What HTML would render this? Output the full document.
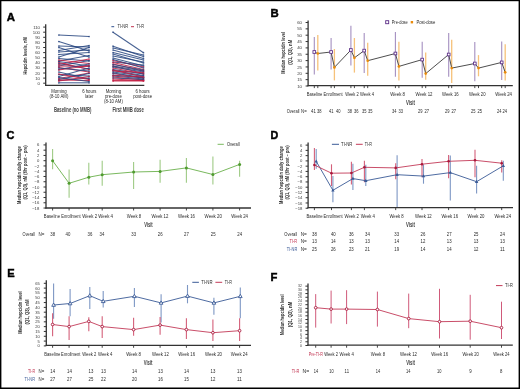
<!DOCTYPE html><html><head><meta charset="utf-8"><style>html,body{margin:0;padding:0;background:#fff;width:520px;height:389px;overflow:hidden}</style></head><body><svg width="520" height="389" viewBox="0 0 520 389" style="display:block;filter:blur(0.3px);font-family:'Liberation Sans',sans-serif">
<rect x="0" y="0" width="520" height="389" fill="#fff"/>
<text x="6.84" y="21.30" font-size="11.39" font-weight="bold" fill="#000" stroke="#000" stroke-width="0.45">A</text>
<line x1="45.70" y1="24.30" x2="45.70" y2="85.90" stroke="#333" stroke-width="1.3" />
<line x1="43.20" y1="83.20" x2="45.70" y2="83.20" stroke="#333" stroke-width="1" />
<text x="37.60" y="84.78" font-size="4.4" font-weight="normal" fill="#3a3a3a" textLength="2.40" lengthAdjust="spacingAndGlyphs">0</text>
<line x1="43.20" y1="78.10" x2="45.70" y2="78.10" stroke="#333" stroke-width="1" />
<text x="35.20" y="79.68" font-size="4.4" font-weight="normal" fill="#3a3a3a" textLength="4.80" lengthAdjust="spacingAndGlyphs">10</text>
<line x1="43.20" y1="73.00" x2="45.70" y2="73.00" stroke="#333" stroke-width="1" />
<text x="35.20" y="74.58" font-size="4.4" font-weight="normal" fill="#3a3a3a" textLength="4.80" lengthAdjust="spacingAndGlyphs">20</text>
<line x1="43.20" y1="67.90" x2="45.70" y2="67.90" stroke="#333" stroke-width="1" />
<text x="35.20" y="69.48" font-size="4.4" font-weight="normal" fill="#3a3a3a" textLength="4.80" lengthAdjust="spacingAndGlyphs">30</text>
<line x1="43.20" y1="62.80" x2="45.70" y2="62.80" stroke="#333" stroke-width="1" />
<text x="35.20" y="64.38" font-size="4.4" font-weight="normal" fill="#3a3a3a" textLength="4.80" lengthAdjust="spacingAndGlyphs">40</text>
<line x1="43.20" y1="57.70" x2="45.70" y2="57.70" stroke="#333" stroke-width="1" />
<text x="35.20" y="59.28" font-size="4.4" font-weight="normal" fill="#3a3a3a" textLength="4.80" lengthAdjust="spacingAndGlyphs">50</text>
<line x1="43.20" y1="52.60" x2="45.70" y2="52.60" stroke="#333" stroke-width="1" />
<text x="35.20" y="54.18" font-size="4.4" font-weight="normal" fill="#3a3a3a" textLength="4.80" lengthAdjust="spacingAndGlyphs">60</text>
<line x1="43.20" y1="47.50" x2="45.70" y2="47.50" stroke="#333" stroke-width="1" />
<text x="35.20" y="49.08" font-size="4.4" font-weight="normal" fill="#3a3a3a" textLength="4.80" lengthAdjust="spacingAndGlyphs">70</text>
<line x1="43.20" y1="42.40" x2="45.70" y2="42.40" stroke="#333" stroke-width="1" />
<text x="35.20" y="43.98" font-size="4.4" font-weight="normal" fill="#3a3a3a" textLength="4.80" lengthAdjust="spacingAndGlyphs">80</text>
<line x1="43.20" y1="37.30" x2="45.70" y2="37.30" stroke="#333" stroke-width="1" />
<text x="35.20" y="38.88" font-size="4.4" font-weight="normal" fill="#3a3a3a" textLength="4.80" lengthAdjust="spacingAndGlyphs">90</text>
<line x1="43.20" y1="32.20" x2="45.70" y2="32.20" stroke="#333" stroke-width="1" />
<text x="32.81" y="33.78" font-size="4.4" font-weight="normal" fill="#3a3a3a" textLength="7.19" lengthAdjust="spacingAndGlyphs">100</text>
<line x1="43.20" y1="27.10" x2="45.70" y2="27.10" stroke="#333" stroke-width="1" />
<text x="33.13" y="28.68" font-size="4.4" font-weight="normal" fill="#3a3a3a" textLength="6.87" lengthAdjust="spacingAndGlyphs">110</text>
<line x1="45.05" y1="85.30" x2="144.30" y2="85.30" stroke="#333" stroke-width="1.3" />
<g transform="translate(25.40,55.80) rotate(-90)"><text x="-18.70" y="1.80" font-size="6.0" font-weight="bold" fill="#2a2a2a" stroke="#2a2a2a" stroke-width="0.0" textLength="37.40" lengthAdjust="spacingAndGlyphs">Hepcidin levels, nM</text></g>
<text x="51.13" y="92.80" font-size="5.0" font-weight="normal" fill="#2a2a2a" textLength="15.53" lengthAdjust="spacingAndGlyphs">Morning</text>
<text x="49.46" y="97.80" font-size="5.0" font-weight="normal" fill="#2a2a2a" textLength="18.88" lengthAdjust="spacingAndGlyphs">(8-10 AM)</text>
<text x="82.13" y="92.80" font-size="5.0" font-weight="normal" fill="#2a2a2a" textLength="14.34" lengthAdjust="spacingAndGlyphs">6 hours</text>
<text x="85.12" y="97.80" font-size="5.0" font-weight="normal" fill="#2a2a2a" textLength="8.36" lengthAdjust="spacingAndGlyphs">later</text>
<text x="105.63" y="92.80" font-size="5.0" font-weight="normal" fill="#2a2a2a" textLength="15.53" lengthAdjust="spacingAndGlyphs">Morning</text>
<text x="104.92" y="97.80" font-size="5.0" font-weight="normal" fill="#2a2a2a" textLength="16.97" lengthAdjust="spacingAndGlyphs">pre-dose</text>
<text x="103.96" y="102.80" font-size="5.0" font-weight="normal" fill="#2a2a2a" textLength="18.88" lengthAdjust="spacingAndGlyphs">(8-10 AM)</text>
<text x="135.43" y="92.80" font-size="5.0" font-weight="normal" fill="#2a2a2a" textLength="14.34" lengthAdjust="spacingAndGlyphs">6 hours</text>
<text x="133.16" y="97.80" font-size="5.0" font-weight="normal" fill="#2a2a2a" textLength="18.88" lengthAdjust="spacingAndGlyphs">post-dose</text>
<text x="54.00" y="112.35" font-size="6.8" font-weight="bold" fill="#444" textLength="37.50" lengthAdjust="spacingAndGlyphs">Baseline (no MMB)</text>
<text x="112.50" y="112.35" font-size="6.8" font-weight="bold" fill="#444" textLength="31.30" lengthAdjust="spacingAndGlyphs">First MMB dose</text>
<line x1="111.40" y1="26.70" x2="114.20" y2="26.70" stroke="#2f4f8f" stroke-width="1" />
<text x="117.50" y="28.36" font-size="4.6" font-weight="normal" fill="#2a2a2a" textLength="10.50" lengthAdjust="spacingAndGlyphs">TI-NR</text>
<line x1="131.00" y1="26.70" x2="134.00" y2="26.70" stroke="#c0304e" stroke-width="1" />
<text x="136.50" y="28.36" font-size="4.6" font-weight="normal" fill="#2a2a2a" textLength="7.50" lengthAdjust="spacingAndGlyphs">TI-R</text>
<line x1="58.80" y1="35.00" x2="89.10" y2="36.50" stroke="#27457f" stroke-width="1.05" stroke-opacity="0.85"/>
<line x1="58.80" y1="41.50" x2="89.10" y2="51.00" stroke="#27457f" stroke-width="1.05" stroke-opacity="0.85"/>
<line x1="58.80" y1="46.00" x2="89.10" y2="47.00" stroke="#27457f" stroke-width="1.05" stroke-opacity="0.85"/>
<line x1="58.80" y1="50.50" x2="89.10" y2="45.50" stroke="#27457f" stroke-width="1.05" stroke-opacity="0.85"/>
<line x1="58.80" y1="47.50" x2="89.10" y2="57.00" stroke="#27457f" stroke-width="1.05" stroke-opacity="0.85"/>
<line x1="58.80" y1="52.00" x2="89.10" y2="50.00" stroke="#27457f" stroke-width="1.05" stroke-opacity="0.85"/>
<line x1="58.80" y1="54.50" x2="89.10" y2="52.50" stroke="#27457f" stroke-width="1.05" stroke-opacity="0.85"/>
<line x1="58.80" y1="57.00" x2="89.10" y2="47.50" stroke="#27457f" stroke-width="1.05" stroke-opacity="0.85"/>
<line x1="58.80" y1="58.50" x2="89.10" y2="61.00" stroke="#27457f" stroke-width="1.05" stroke-opacity="0.85"/>
<line x1="58.80" y1="61.00" x2="89.10" y2="55.50" stroke="#27457f" stroke-width="1.05" stroke-opacity="0.85"/>
<line x1="58.80" y1="64.50" x2="89.10" y2="59.00" stroke="#c21d43" stroke-width="1.05" stroke-opacity="0.85"/>
<line x1="58.80" y1="66.00" x2="89.10" y2="60.50" stroke="#27457f" stroke-width="1.05" stroke-opacity="0.85"/>
<line x1="58.80" y1="63.50" x2="89.10" y2="69.00" stroke="#27457f" stroke-width="1.05" stroke-opacity="0.85"/>
<line x1="58.80" y1="60.00" x2="89.10" y2="63.50" stroke="#c21d43" stroke-width="1.05" stroke-opacity="0.85"/>
<line x1="58.80" y1="62.50" x2="89.10" y2="69.50" stroke="#c21d43" stroke-width="1.05" stroke-opacity="0.85"/>
<line x1="58.80" y1="66.00" x2="89.10" y2="66.50" stroke="#c21d43" stroke-width="1.05" stroke-opacity="0.85"/>
<line x1="58.80" y1="69.50" x2="89.10" y2="64.00" stroke="#27457f" stroke-width="1.05" stroke-opacity="0.85"/>
<line x1="58.80" y1="61.50" x2="89.10" y2="66.00" stroke="#27457f" stroke-width="1.05" stroke-opacity="0.85"/>
<line x1="58.80" y1="70.00" x2="89.10" y2="65.50" stroke="#c21d43" stroke-width="1.05" stroke-opacity="0.85"/>
<line x1="58.80" y1="67.50" x2="89.10" y2="72.00" stroke="#c21d43" stroke-width="1.05" stroke-opacity="0.85"/>
<line x1="58.80" y1="68.00" x2="89.10" y2="71.00" stroke="#27457f" stroke-width="1.05" stroke-opacity="0.85"/>
<line x1="58.80" y1="76.50" x2="89.10" y2="68.00" stroke="#27457f" stroke-width="1.05" stroke-opacity="0.85"/>
<line x1="58.80" y1="78.50" x2="89.10" y2="73.00" stroke="#c21d43" stroke-width="1.05" stroke-opacity="0.85"/>
<line x1="58.80" y1="74.50" x2="89.10" y2="76.00" stroke="#27457f" stroke-width="1.05" stroke-opacity="0.85"/>
<line x1="58.80" y1="80.50" x2="89.10" y2="78.00" stroke="#27457f" stroke-width="1.05" stroke-opacity="0.85"/>
<line x1="58.80" y1="79.50" x2="89.10" y2="73.50" stroke="#27457f" stroke-width="1.05" stroke-opacity="0.85"/>
<line x1="58.80" y1="72.00" x2="89.10" y2="79.00" stroke="#27457f" stroke-width="1.05" stroke-opacity="0.85"/>
<line x1="58.80" y1="74.00" x2="89.10" y2="79.50" stroke="#c21d43" stroke-width="1.05" stroke-opacity="0.85"/>
<line x1="58.80" y1="81.00" x2="89.10" y2="76.50" stroke="#c21d43" stroke-width="1.05" stroke-opacity="0.85"/>
<line x1="58.80" y1="80.00" x2="89.10" y2="80.50" stroke="#c21d43" stroke-width="1.05" stroke-opacity="0.85"/>
<line x1="58.80" y1="82.80" x2="89.10" y2="82.80" stroke="#27457f" stroke-width="1.05" stroke-opacity="0.85"/>
<line x1="58.80" y1="77.50" x2="89.10" y2="81.50" stroke="#27457f" stroke-width="1.05" stroke-opacity="0.85"/>
<circle cx="58.80" cy="35.00" r="0.85" fill="#27457f" fill-opacity="0.8"/>
<circle cx="89.10" cy="36.50" r="0.85" fill="#27457f" fill-opacity="0.8"/>
<circle cx="58.80" cy="41.50" r="0.85" fill="#27457f" fill-opacity="0.8"/>
<circle cx="89.10" cy="51.00" r="0.85" fill="#27457f" fill-opacity="0.8"/>
<circle cx="58.80" cy="46.00" r="0.85" fill="#27457f" fill-opacity="0.8"/>
<circle cx="89.10" cy="47.00" r="0.85" fill="#27457f" fill-opacity="0.8"/>
<circle cx="58.80" cy="50.50" r="0.85" fill="#27457f" fill-opacity="0.8"/>
<circle cx="89.10" cy="45.50" r="0.85" fill="#27457f" fill-opacity="0.8"/>
<circle cx="58.80" cy="47.50" r="0.85" fill="#27457f" fill-opacity="0.8"/>
<circle cx="89.10" cy="57.00" r="0.85" fill="#27457f" fill-opacity="0.8"/>
<circle cx="58.80" cy="52.00" r="0.85" fill="#27457f" fill-opacity="0.8"/>
<circle cx="89.10" cy="50.00" r="0.85" fill="#27457f" fill-opacity="0.8"/>
<circle cx="58.80" cy="54.50" r="0.85" fill="#27457f" fill-opacity="0.8"/>
<circle cx="89.10" cy="52.50" r="0.85" fill="#27457f" fill-opacity="0.8"/>
<circle cx="58.80" cy="57.00" r="0.85" fill="#27457f" fill-opacity="0.8"/>
<circle cx="89.10" cy="47.50" r="0.85" fill="#27457f" fill-opacity="0.8"/>
<circle cx="58.80" cy="58.50" r="0.85" fill="#27457f" fill-opacity="0.8"/>
<circle cx="89.10" cy="61.00" r="0.85" fill="#27457f" fill-opacity="0.8"/>
<circle cx="58.80" cy="61.00" r="0.85" fill="#27457f" fill-opacity="0.8"/>
<circle cx="89.10" cy="55.50" r="0.85" fill="#27457f" fill-opacity="0.8"/>
<circle cx="58.80" cy="64.50" r="0.85" fill="#c21d43" fill-opacity="0.8"/>
<circle cx="89.10" cy="59.00" r="0.85" fill="#c21d43" fill-opacity="0.8"/>
<circle cx="58.80" cy="66.00" r="0.85" fill="#27457f" fill-opacity="0.8"/>
<circle cx="89.10" cy="60.50" r="0.85" fill="#27457f" fill-opacity="0.8"/>
<circle cx="58.80" cy="63.50" r="0.85" fill="#27457f" fill-opacity="0.8"/>
<circle cx="89.10" cy="69.00" r="0.85" fill="#27457f" fill-opacity="0.8"/>
<circle cx="58.80" cy="60.00" r="0.85" fill="#c21d43" fill-opacity="0.8"/>
<circle cx="89.10" cy="63.50" r="0.85" fill="#c21d43" fill-opacity="0.8"/>
<circle cx="58.80" cy="62.50" r="0.85" fill="#c21d43" fill-opacity="0.8"/>
<circle cx="89.10" cy="69.50" r="0.85" fill="#c21d43" fill-opacity="0.8"/>
<circle cx="58.80" cy="66.00" r="0.85" fill="#c21d43" fill-opacity="0.8"/>
<circle cx="89.10" cy="66.50" r="0.85" fill="#c21d43" fill-opacity="0.8"/>
<circle cx="58.80" cy="69.50" r="0.85" fill="#27457f" fill-opacity="0.8"/>
<circle cx="89.10" cy="64.00" r="0.85" fill="#27457f" fill-opacity="0.8"/>
<circle cx="58.80" cy="61.50" r="0.85" fill="#27457f" fill-opacity="0.8"/>
<circle cx="89.10" cy="66.00" r="0.85" fill="#27457f" fill-opacity="0.8"/>
<circle cx="58.80" cy="70.00" r="0.85" fill="#c21d43" fill-opacity="0.8"/>
<circle cx="89.10" cy="65.50" r="0.85" fill="#c21d43" fill-opacity="0.8"/>
<circle cx="58.80" cy="67.50" r="0.85" fill="#c21d43" fill-opacity="0.8"/>
<circle cx="89.10" cy="72.00" r="0.85" fill="#c21d43" fill-opacity="0.8"/>
<circle cx="58.80" cy="68.00" r="0.85" fill="#27457f" fill-opacity="0.8"/>
<circle cx="89.10" cy="71.00" r="0.85" fill="#27457f" fill-opacity="0.8"/>
<circle cx="58.80" cy="76.50" r="0.85" fill="#27457f" fill-opacity="0.8"/>
<circle cx="89.10" cy="68.00" r="0.85" fill="#27457f" fill-opacity="0.8"/>
<circle cx="58.80" cy="78.50" r="0.85" fill="#c21d43" fill-opacity="0.8"/>
<circle cx="89.10" cy="73.00" r="0.85" fill="#c21d43" fill-opacity="0.8"/>
<circle cx="58.80" cy="74.50" r="0.85" fill="#27457f" fill-opacity="0.8"/>
<circle cx="89.10" cy="76.00" r="0.85" fill="#27457f" fill-opacity="0.8"/>
<circle cx="58.80" cy="80.50" r="0.85" fill="#27457f" fill-opacity="0.8"/>
<circle cx="89.10" cy="78.00" r="0.85" fill="#27457f" fill-opacity="0.8"/>
<circle cx="58.80" cy="79.50" r="0.85" fill="#27457f" fill-opacity="0.8"/>
<circle cx="89.10" cy="73.50" r="0.85" fill="#27457f" fill-opacity="0.8"/>
<circle cx="58.80" cy="72.00" r="0.85" fill="#27457f" fill-opacity="0.8"/>
<circle cx="89.10" cy="79.00" r="0.85" fill="#27457f" fill-opacity="0.8"/>
<circle cx="58.80" cy="74.00" r="0.85" fill="#c21d43" fill-opacity="0.8"/>
<circle cx="89.10" cy="79.50" r="0.85" fill="#c21d43" fill-opacity="0.8"/>
<circle cx="58.80" cy="81.00" r="0.85" fill="#c21d43" fill-opacity="0.8"/>
<circle cx="89.10" cy="76.50" r="0.85" fill="#c21d43" fill-opacity="0.8"/>
<circle cx="58.80" cy="80.00" r="0.85" fill="#c21d43" fill-opacity="0.8"/>
<circle cx="89.10" cy="80.50" r="0.85" fill="#c21d43" fill-opacity="0.8"/>
<circle cx="58.80" cy="82.80" r="0.85" fill="#27457f" fill-opacity="0.8"/>
<circle cx="89.10" cy="82.80" r="0.85" fill="#27457f" fill-opacity="0.8"/>
<circle cx="58.80" cy="77.50" r="0.85" fill="#27457f" fill-opacity="0.8"/>
<circle cx="89.10" cy="81.50" r="0.85" fill="#27457f" fill-opacity="0.8"/>
<line x1="113.00" y1="32.20" x2="143.50" y2="52.70" stroke="#27457f" stroke-width="1.05" stroke-opacity="0.85"/>
<line x1="113.00" y1="46.20" x2="143.50" y2="56.60" stroke="#27457f" stroke-width="1.05" stroke-opacity="0.85"/>
<line x1="113.00" y1="48.00" x2="143.50" y2="55.00" stroke="#27457f" stroke-width="1.05" stroke-opacity="0.85"/>
<line x1="113.00" y1="50.00" x2="143.50" y2="58.50" stroke="#27457f" stroke-width="1.05" stroke-opacity="0.85"/>
<line x1="113.00" y1="52.50" x2="143.50" y2="60.00" stroke="#27457f" stroke-width="1.05" stroke-opacity="0.85"/>
<line x1="113.00" y1="56.00" x2="143.50" y2="62.00" stroke="#27457f" stroke-width="1.05" stroke-opacity="0.85"/>
<line x1="113.00" y1="54.00" x2="143.50" y2="63.00" stroke="#27457f" stroke-width="1.05" stroke-opacity="0.85"/>
<line x1="113.00" y1="62.00" x2="143.50" y2="65.00" stroke="#27457f" stroke-width="1.05" stroke-opacity="0.85"/>
<line x1="113.00" y1="58.00" x2="143.50" y2="66.00" stroke="#27457f" stroke-width="1.05" stroke-opacity="0.85"/>
<line x1="113.00" y1="60.50" x2="143.50" y2="67.00" stroke="#c21d43" stroke-width="1.05" stroke-opacity="0.85"/>
<line x1="113.00" y1="59.50" x2="143.50" y2="68.00" stroke="#27457f" stroke-width="1.05" stroke-opacity="0.85"/>
<line x1="113.00" y1="64.00" x2="143.50" y2="71.00" stroke="#c21d43" stroke-width="1.05" stroke-opacity="0.85"/>
<line x1="113.00" y1="62.50" x2="143.50" y2="69.50" stroke="#c21d43" stroke-width="1.05" stroke-opacity="0.85"/>
<line x1="113.00" y1="68.00" x2="143.50" y2="74.00" stroke="#c21d43" stroke-width="1.05" stroke-opacity="0.85"/>
<line x1="113.00" y1="64.50" x2="143.50" y2="70.00" stroke="#27457f" stroke-width="1.05" stroke-opacity="0.85"/>
<line x1="113.00" y1="66.00" x2="143.50" y2="73.50" stroke="#c21d43" stroke-width="1.05" stroke-opacity="0.85"/>
<line x1="113.00" y1="66.00" x2="143.50" y2="71.00" stroke="#27457f" stroke-width="1.05" stroke-opacity="0.85"/>
<line x1="113.00" y1="69.50" x2="143.50" y2="74.00" stroke="#27457f" stroke-width="1.05" stroke-opacity="0.85"/>
<line x1="113.00" y1="67.00" x2="143.50" y2="72.00" stroke="#27457f" stroke-width="1.05" stroke-opacity="0.85"/>
<line x1="113.00" y1="70.50" x2="143.50" y2="75.50" stroke="#27457f" stroke-width="1.05" stroke-opacity="0.85"/>
<line x1="113.00" y1="71.00" x2="143.50" y2="72.50" stroke="#c21d43" stroke-width="1.05" stroke-opacity="0.85"/>
<line x1="113.00" y1="72.00" x2="143.50" y2="76.00" stroke="#27457f" stroke-width="1.05" stroke-opacity="0.85"/>
<line x1="113.00" y1="70.00" x2="143.50" y2="76.90" stroke="#c21d43" stroke-width="1.05" stroke-opacity="0.85"/>
<line x1="113.00" y1="76.00" x2="143.50" y2="79.00" stroke="#27457f" stroke-width="1.05" stroke-opacity="0.85"/>
<line x1="113.00" y1="73.50" x2="143.50" y2="78.00" stroke="#c21d43" stroke-width="1.05" stroke-opacity="0.85"/>
<line x1="113.00" y1="75.00" x2="143.50" y2="78.00" stroke="#27457f" stroke-width="1.05" stroke-opacity="0.85"/>
<line x1="113.00" y1="77.00" x2="143.50" y2="80.00" stroke="#c21d43" stroke-width="1.05" stroke-opacity="0.85"/>
<line x1="113.00" y1="73.00" x2="143.50" y2="77.50" stroke="#27457f" stroke-width="1.05" stroke-opacity="0.85"/>
<line x1="113.00" y1="75.50" x2="143.50" y2="77.00" stroke="#c21d43" stroke-width="1.05" stroke-opacity="0.85"/>
<line x1="113.00" y1="80.40" x2="143.50" y2="80.40" stroke="#c21d43" stroke-width="1.05" stroke-opacity="0.85"/>
<line x1="113.00" y1="78.00" x2="143.50" y2="79.50" stroke="#27457f" stroke-width="1.05" stroke-opacity="0.85"/>
<line x1="113.00" y1="79.00" x2="143.50" y2="80.70" stroke="#c21d43" stroke-width="1.05" stroke-opacity="0.85"/>
<line x1="113.00" y1="81.00" x2="143.50" y2="81.00" stroke="#c21d43" stroke-width="1.05" stroke-opacity="0.85"/>
<circle cx="113.00" cy="32.20" r="0.85" fill="#27457f" fill-opacity="0.8"/>
<circle cx="143.50" cy="52.70" r="0.85" fill="#27457f" fill-opacity="0.8"/>
<circle cx="113.00" cy="46.20" r="0.85" fill="#27457f" fill-opacity="0.8"/>
<circle cx="143.50" cy="56.60" r="0.85" fill="#27457f" fill-opacity="0.8"/>
<circle cx="113.00" cy="48.00" r="0.85" fill="#27457f" fill-opacity="0.8"/>
<circle cx="143.50" cy="55.00" r="0.85" fill="#27457f" fill-opacity="0.8"/>
<circle cx="113.00" cy="50.00" r="0.85" fill="#27457f" fill-opacity="0.8"/>
<circle cx="143.50" cy="58.50" r="0.85" fill="#27457f" fill-opacity="0.8"/>
<circle cx="113.00" cy="52.50" r="0.85" fill="#27457f" fill-opacity="0.8"/>
<circle cx="143.50" cy="60.00" r="0.85" fill="#27457f" fill-opacity="0.8"/>
<circle cx="113.00" cy="56.00" r="0.85" fill="#27457f" fill-opacity="0.8"/>
<circle cx="143.50" cy="62.00" r="0.85" fill="#27457f" fill-opacity="0.8"/>
<circle cx="113.00" cy="54.00" r="0.85" fill="#27457f" fill-opacity="0.8"/>
<circle cx="143.50" cy="63.00" r="0.85" fill="#27457f" fill-opacity="0.8"/>
<circle cx="113.00" cy="62.00" r="0.85" fill="#27457f" fill-opacity="0.8"/>
<circle cx="143.50" cy="65.00" r="0.85" fill="#27457f" fill-opacity="0.8"/>
<circle cx="113.00" cy="58.00" r="0.85" fill="#27457f" fill-opacity="0.8"/>
<circle cx="143.50" cy="66.00" r="0.85" fill="#27457f" fill-opacity="0.8"/>
<circle cx="113.00" cy="60.50" r="0.85" fill="#c21d43" fill-opacity="0.8"/>
<circle cx="143.50" cy="67.00" r="0.85" fill="#c21d43" fill-opacity="0.8"/>
<circle cx="113.00" cy="59.50" r="0.85" fill="#27457f" fill-opacity="0.8"/>
<circle cx="143.50" cy="68.00" r="0.85" fill="#27457f" fill-opacity="0.8"/>
<circle cx="113.00" cy="64.00" r="0.85" fill="#c21d43" fill-opacity="0.8"/>
<circle cx="143.50" cy="71.00" r="0.85" fill="#c21d43" fill-opacity="0.8"/>
<circle cx="113.00" cy="62.50" r="0.85" fill="#c21d43" fill-opacity="0.8"/>
<circle cx="143.50" cy="69.50" r="0.85" fill="#c21d43" fill-opacity="0.8"/>
<circle cx="113.00" cy="68.00" r="0.85" fill="#c21d43" fill-opacity="0.8"/>
<circle cx="143.50" cy="74.00" r="0.85" fill="#c21d43" fill-opacity="0.8"/>
<circle cx="113.00" cy="64.50" r="0.85" fill="#27457f" fill-opacity="0.8"/>
<circle cx="143.50" cy="70.00" r="0.85" fill="#27457f" fill-opacity="0.8"/>
<circle cx="113.00" cy="66.00" r="0.85" fill="#c21d43" fill-opacity="0.8"/>
<circle cx="143.50" cy="73.50" r="0.85" fill="#c21d43" fill-opacity="0.8"/>
<circle cx="113.00" cy="66.00" r="0.85" fill="#27457f" fill-opacity="0.8"/>
<circle cx="143.50" cy="71.00" r="0.85" fill="#27457f" fill-opacity="0.8"/>
<circle cx="113.00" cy="69.50" r="0.85" fill="#27457f" fill-opacity="0.8"/>
<circle cx="143.50" cy="74.00" r="0.85" fill="#27457f" fill-opacity="0.8"/>
<circle cx="113.00" cy="67.00" r="0.85" fill="#27457f" fill-opacity="0.8"/>
<circle cx="143.50" cy="72.00" r="0.85" fill="#27457f" fill-opacity="0.8"/>
<circle cx="113.00" cy="70.50" r="0.85" fill="#27457f" fill-opacity="0.8"/>
<circle cx="143.50" cy="75.50" r="0.85" fill="#27457f" fill-opacity="0.8"/>
<circle cx="113.00" cy="71.00" r="0.85" fill="#c21d43" fill-opacity="0.8"/>
<circle cx="143.50" cy="72.50" r="0.85" fill="#c21d43" fill-opacity="0.8"/>
<circle cx="113.00" cy="72.00" r="0.85" fill="#27457f" fill-opacity="0.8"/>
<circle cx="143.50" cy="76.00" r="0.85" fill="#27457f" fill-opacity="0.8"/>
<circle cx="113.00" cy="70.00" r="0.85" fill="#c21d43" fill-opacity="0.8"/>
<circle cx="143.50" cy="76.90" r="0.85" fill="#c21d43" fill-opacity="0.8"/>
<circle cx="113.00" cy="76.00" r="0.85" fill="#27457f" fill-opacity="0.8"/>
<circle cx="143.50" cy="79.00" r="0.85" fill="#27457f" fill-opacity="0.8"/>
<circle cx="113.00" cy="73.50" r="0.85" fill="#c21d43" fill-opacity="0.8"/>
<circle cx="143.50" cy="78.00" r="0.85" fill="#c21d43" fill-opacity="0.8"/>
<circle cx="113.00" cy="75.00" r="0.85" fill="#27457f" fill-opacity="0.8"/>
<circle cx="143.50" cy="78.00" r="0.85" fill="#27457f" fill-opacity="0.8"/>
<circle cx="113.00" cy="77.00" r="0.85" fill="#c21d43" fill-opacity="0.8"/>
<circle cx="143.50" cy="80.00" r="0.85" fill="#c21d43" fill-opacity="0.8"/>
<circle cx="113.00" cy="73.00" r="0.85" fill="#27457f" fill-opacity="0.8"/>
<circle cx="143.50" cy="77.50" r="0.85" fill="#27457f" fill-opacity="0.8"/>
<circle cx="113.00" cy="75.50" r="0.85" fill="#c21d43" fill-opacity="0.8"/>
<circle cx="143.50" cy="77.00" r="0.85" fill="#c21d43" fill-opacity="0.8"/>
<circle cx="113.00" cy="80.40" r="0.85" fill="#c21d43" fill-opacity="0.8"/>
<circle cx="143.50" cy="80.40" r="0.85" fill="#c21d43" fill-opacity="0.8"/>
<circle cx="113.00" cy="78.00" r="0.85" fill="#27457f" fill-opacity="0.8"/>
<circle cx="143.50" cy="79.50" r="0.85" fill="#27457f" fill-opacity="0.8"/>
<circle cx="113.00" cy="79.00" r="0.85" fill="#c21d43" fill-opacity="0.8"/>
<circle cx="143.50" cy="80.70" r="0.85" fill="#c21d43" fill-opacity="0.8"/>
<circle cx="113.00" cy="81.00" r="0.85" fill="#c21d43" fill-opacity="0.8"/>
<circle cx="143.50" cy="81.00" r="0.85" fill="#c21d43" fill-opacity="0.8"/>
<text x="270.54" y="16.90" font-size="11.39" font-weight="bold" fill="#000" stroke="#000" stroke-width="0.45">B</text>
<line x1="308.10" y1="20.40" x2="308.10" y2="86.30" stroke="#333" stroke-width="1.3" />
<line x1="305.60" y1="86.00" x2="308.10" y2="86.00" stroke="#333" stroke-width="1" />
<text x="297.20" y="87.58" font-size="4.4" font-weight="normal" fill="#3a3a3a" textLength="4.80" lengthAdjust="spacingAndGlyphs">10</text>
<line x1="305.60" y1="79.65" x2="308.10" y2="79.65" stroke="#333" stroke-width="1" />
<text x="297.20" y="81.23" font-size="4.4" font-weight="normal" fill="#3a3a3a" textLength="4.80" lengthAdjust="spacingAndGlyphs">15</text>
<line x1="305.60" y1="73.30" x2="308.10" y2="73.30" stroke="#333" stroke-width="1" />
<text x="297.20" y="74.88" font-size="4.4" font-weight="normal" fill="#3a3a3a" textLength="4.80" lengthAdjust="spacingAndGlyphs">20</text>
<line x1="305.60" y1="66.95" x2="308.10" y2="66.95" stroke="#333" stroke-width="1" />
<text x="297.20" y="68.53" font-size="4.4" font-weight="normal" fill="#3a3a3a" textLength="4.80" lengthAdjust="spacingAndGlyphs">25</text>
<line x1="305.60" y1="60.60" x2="308.10" y2="60.60" stroke="#333" stroke-width="1" />
<text x="297.20" y="62.18" font-size="4.4" font-weight="normal" fill="#3a3a3a" textLength="4.80" lengthAdjust="spacingAndGlyphs">30</text>
<line x1="305.60" y1="54.25" x2="308.10" y2="54.25" stroke="#333" stroke-width="1" />
<text x="297.20" y="55.83" font-size="4.4" font-weight="normal" fill="#3a3a3a" textLength="4.80" lengthAdjust="spacingAndGlyphs">35</text>
<line x1="305.60" y1="47.90" x2="308.10" y2="47.90" stroke="#333" stroke-width="1" />
<text x="297.20" y="49.48" font-size="4.4" font-weight="normal" fill="#3a3a3a" textLength="4.80" lengthAdjust="spacingAndGlyphs">40</text>
<line x1="305.60" y1="41.55" x2="308.10" y2="41.55" stroke="#333" stroke-width="1" />
<text x="297.20" y="43.13" font-size="4.4" font-weight="normal" fill="#3a3a3a" textLength="4.80" lengthAdjust="spacingAndGlyphs">45</text>
<line x1="305.60" y1="35.20" x2="308.10" y2="35.20" stroke="#333" stroke-width="1" />
<text x="297.20" y="36.78" font-size="4.4" font-weight="normal" fill="#3a3a3a" textLength="4.80" lengthAdjust="spacingAndGlyphs">50</text>
<line x1="305.60" y1="28.85" x2="308.10" y2="28.85" stroke="#333" stroke-width="1" />
<text x="297.20" y="30.43" font-size="4.4" font-weight="normal" fill="#3a3a3a" textLength="4.80" lengthAdjust="spacingAndGlyphs">55</text>
<line x1="305.60" y1="22.50" x2="308.10" y2="22.50" stroke="#333" stroke-width="1" />
<text x="297.20" y="24.08" font-size="4.4" font-weight="normal" fill="#3a3a3a" textLength="4.80" lengthAdjust="spacingAndGlyphs">60</text>
<g transform="translate(282.75,52.75) rotate(-90)"><text x="-20.95" y="1.80" font-size="6.0" font-weight="bold" fill="#2a2a2a" stroke="#2a2a2a" stroke-width="0.0" textLength="41.90" lengthAdjust="spacingAndGlyphs">Median hepcidin level</text></g>
<g transform="translate(289.80,52.25) rotate(-90)"><text x="-12.45" y="1.80" font-size="6.0" font-weight="bold" fill="#2a2a2a" stroke="#2a2a2a" stroke-width="0.0" textLength="24.90" lengthAdjust="spacingAndGlyphs">(Q1, Q3), nM</text></g>
<line x1="307.45" y1="85.60" x2="512.80" y2="85.60" stroke="#333" stroke-width="1.3" />
<line x1="314.30" y1="85.60" x2="314.30" y2="88.10" stroke="#333" stroke-width="0.9" />
<line x1="317.80" y1="85.60" x2="317.80" y2="88.10" stroke="#333" stroke-width="0.9" />
<line x1="331.10" y1="85.60" x2="331.10" y2="88.10" stroke="#333" stroke-width="0.9" />
<line x1="334.40" y1="85.60" x2="334.40" y2="88.10" stroke="#333" stroke-width="0.9" />
<line x1="350.90" y1="85.60" x2="350.90" y2="88.10" stroke="#333" stroke-width="0.9" />
<line x1="354.40" y1="85.60" x2="354.40" y2="88.10" stroke="#333" stroke-width="0.9" />
<line x1="364.20" y1="85.60" x2="364.20" y2="88.10" stroke="#333" stroke-width="0.9" />
<line x1="367.70" y1="85.60" x2="367.70" y2="88.10" stroke="#333" stroke-width="0.9" />
<line x1="395.40" y1="85.60" x2="395.40" y2="88.10" stroke="#333" stroke-width="0.9" />
<line x1="398.90" y1="85.60" x2="398.90" y2="88.10" stroke="#333" stroke-width="0.9" />
<line x1="422.20" y1="85.60" x2="422.20" y2="88.10" stroke="#333" stroke-width="0.9" />
<line x1="425.70" y1="85.60" x2="425.70" y2="88.10" stroke="#333" stroke-width="0.9" />
<line x1="448.70" y1="85.60" x2="448.70" y2="88.10" stroke="#333" stroke-width="0.9" />
<line x1="451.70" y1="85.60" x2="451.70" y2="88.10" stroke="#333" stroke-width="0.9" />
<line x1="474.80" y1="85.60" x2="474.80" y2="88.10" stroke="#333" stroke-width="0.9" />
<line x1="478.50" y1="85.60" x2="478.50" y2="88.10" stroke="#333" stroke-width="0.9" />
<line x1="501.70" y1="85.60" x2="501.70" y2="88.10" stroke="#333" stroke-width="0.9" />
<line x1="505.20" y1="85.60" x2="505.20" y2="88.10" stroke="#333" stroke-width="0.9" />
<line x1="314.30" y1="37.00" x2="314.30" y2="74.60" stroke="#a48fc0" stroke-width="1.1" />
<line x1="317.80" y1="35.00" x2="317.80" y2="70.50" stroke="#f6c27a" stroke-width="1.3" />
<line x1="331.10" y1="38.00" x2="331.10" y2="69.50" stroke="#a48fc0" stroke-width="1.1" />
<line x1="334.40" y1="49.00" x2="334.40" y2="80.40" stroke="#f6c27a" stroke-width="1.3" />
<line x1="350.90" y1="25.70" x2="350.90" y2="65.40" stroke="#a48fc0" stroke-width="1.1" />
<line x1="354.40" y1="38.00" x2="354.40" y2="72.60" stroke="#f6c27a" stroke-width="1.3" />
<line x1="364.20" y1="33.00" x2="364.20" y2="73.00" stroke="#a48fc0" stroke-width="1.1" />
<line x1="367.70" y1="42.80" x2="367.70" y2="75.70" stroke="#f6c27a" stroke-width="1.3" />
<line x1="395.40" y1="31.90" x2="395.40" y2="76.70" stroke="#a48fc0" stroke-width="1.1" />
<line x1="398.90" y1="41.70" x2="398.90" y2="80.40" stroke="#f6c27a" stroke-width="1.3" />
<line x1="422.20" y1="41.70" x2="422.20" y2="77.70" stroke="#a48fc0" stroke-width="1.1" />
<line x1="425.70" y1="52.60" x2="425.70" y2="79.80" stroke="#f6c27a" stroke-width="1.3" />
<line x1="448.70" y1="33.10" x2="448.70" y2="76.70" stroke="#a48fc0" stroke-width="1.1" />
<line x1="451.70" y1="39.70" x2="451.70" y2="82.90" stroke="#f6c27a" stroke-width="1.3" />
<line x1="474.80" y1="42.10" x2="474.80" y2="81.20" stroke="#a48fc0" stroke-width="1.1" />
<line x1="478.50" y1="55.10" x2="478.50" y2="76.30" stroke="#f6c27a" stroke-width="1.3" />
<line x1="501.70" y1="41.40" x2="501.70" y2="79.90" stroke="#a48fc0" stroke-width="1.1" />
<line x1="505.20" y1="44.20" x2="505.20" y2="80.50" stroke="#f6c27a" stroke-width="1.3" />
<polyline points="314.30,52.00 317.80,53.50 331.10,52.00 334.40,67.40 350.90,50.00 354.40,57.80 364.20,50.60 367.70,60.70 395.40,53.50 398.90,66.40 422.20,59.60 425.70,73.60 448.70,54.50 451.70,68.10 474.80,63.50 478.50,68.10 501.70,62.40 505.20,72.30" fill="none" stroke="#3a3a3a" stroke-width="0.9" stroke-linejoin="round" />
<rect x="312.95" y="50.65" width="2.7" height="2.7" fill="#fff" stroke="#5b2c86" stroke-width="0.85"/>
<circle cx="317.80" cy="53.50" r="1.35" fill="#e98b0c"/>
<rect x="329.75" y="50.65" width="2.7" height="2.7" fill="#fff" stroke="#5b2c86" stroke-width="0.85"/>
<circle cx="334.40" cy="67.40" r="1.35" fill="#e98b0c"/>
<rect x="349.55" y="48.65" width="2.7" height="2.7" fill="#fff" stroke="#5b2c86" stroke-width="0.85"/>
<circle cx="354.40" cy="57.80" r="1.35" fill="#e98b0c"/>
<rect x="362.85" y="49.25" width="2.7" height="2.7" fill="#fff" stroke="#5b2c86" stroke-width="0.85"/>
<circle cx="367.70" cy="60.70" r="1.35" fill="#e98b0c"/>
<rect x="394.05" y="52.15" width="2.7" height="2.7" fill="#fff" stroke="#5b2c86" stroke-width="0.85"/>
<circle cx="398.90" cy="66.40" r="1.35" fill="#e98b0c"/>
<rect x="420.85" y="58.25" width="2.7" height="2.7" fill="#fff" stroke="#5b2c86" stroke-width="0.85"/>
<circle cx="425.70" cy="73.60" r="1.35" fill="#e98b0c"/>
<rect x="447.35" y="53.15" width="2.7" height="2.7" fill="#fff" stroke="#5b2c86" stroke-width="0.85"/>
<circle cx="451.70" cy="68.10" r="1.35" fill="#e98b0c"/>
<rect x="473.45" y="62.15" width="2.7" height="2.7" fill="#fff" stroke="#5b2c86" stroke-width="0.85"/>
<circle cx="478.50" cy="68.10" r="1.35" fill="#e98b0c"/>
<rect x="500.35" y="61.05" width="2.7" height="2.7" fill="#fff" stroke="#5b2c86" stroke-width="0.85"/>
<circle cx="505.20" cy="72.30" r="1.35" fill="#e98b0c"/>
<rect x="385.70" y="20.70" width="3" height="3" fill="#fff" stroke="#5b2c86" stroke-width="0.9"/>
<text x="391.70" y="23.86" font-size="4.6" font-weight="normal" fill="#2a2a2a" textLength="16.10" lengthAdjust="spacingAndGlyphs">Pre-dose</text>
<rect x="410.70" y="21.00" width="2.4" height="2.4" fill="#e98b0c"/>
<text x="416.40" y="23.86" font-size="4.6" font-weight="normal" fill="#2a2a2a" textLength="18.90" lengthAdjust="spacingAndGlyphs">Post-dose</text>
<text x="306.70" y="95.53" font-size="4.8" font-weight="normal" fill="#2a2a2a" textLength="15.70" lengthAdjust="spacingAndGlyphs">Baseline</text>
<text x="323.50" y="95.53" font-size="4.8" font-weight="normal" fill="#2a2a2a" textLength="19.20" lengthAdjust="spacingAndGlyphs">Enrollment</text>
<text x="345.20" y="95.53" font-size="4.8" font-weight="normal" fill="#2a2a2a" textLength="13.50" lengthAdjust="spacingAndGlyphs">Week 2</text>
<text x="360.00" y="95.53" font-size="4.8" font-weight="normal" fill="#2a2a2a" textLength="14.00" lengthAdjust="spacingAndGlyphs">Week 4</text>
<text x="390.20" y="95.53" font-size="4.8" font-weight="normal" fill="#2a2a2a" textLength="14.80" lengthAdjust="spacingAndGlyphs">Week 8</text>
<text x="415.50" y="95.53" font-size="4.8" font-weight="normal" fill="#2a2a2a" textLength="17.00" lengthAdjust="spacingAndGlyphs">Week 12</text>
<text x="442.00" y="95.53" font-size="4.8" font-weight="normal" fill="#2a2a2a" textLength="16.60" lengthAdjust="spacingAndGlyphs">Week 16</text>
<text x="468.90" y="95.53" font-size="4.8" font-weight="normal" fill="#2a2a2a" textLength="16.60" lengthAdjust="spacingAndGlyphs">Week 20</text>
<text x="495.20" y="95.53" font-size="4.8" font-weight="normal" fill="#2a2a2a" textLength="16.80" lengthAdjust="spacingAndGlyphs">Week 24</text>
<text x="406.00" y="105.02" font-size="7.0" font-weight="bold" fill="#444" textLength="9.00" lengthAdjust="spacingAndGlyphs">Visit</text>
<text x="286.70" y="113.16" font-size="4.6" font-weight="normal" fill="#2a2a2a" textLength="12.80" lengthAdjust="spacingAndGlyphs">Overall</text>
<text x="301.00" y="113.16" font-size="4.6" font-weight="normal" fill="#2a2a2a" textLength="5.70" lengthAdjust="spacingAndGlyphs">N=</text>
<text x="311.00" y="113.16" font-size="4.6" font-weight="normal" fill="#2a2a2a" textLength="4.80" lengthAdjust="spacingAndGlyphs">41</text>
<text x="317.00" y="113.16" font-size="4.6" font-weight="normal" fill="#2a2a2a" textLength="4.50" lengthAdjust="spacingAndGlyphs">38</text>
<text x="329.00" y="113.16" font-size="4.6" font-weight="normal" fill="#2a2a2a" textLength="4.50" lengthAdjust="spacingAndGlyphs">41</text>
<text x="336.00" y="113.16" font-size="4.6" font-weight="normal" fill="#2a2a2a" textLength="4.50" lengthAdjust="spacingAndGlyphs">40</text>
<text x="347.50" y="113.16" font-size="4.6" font-weight="normal" fill="#2a2a2a" textLength="4.50" lengthAdjust="spacingAndGlyphs">38</text>
<text x="354.00" y="113.16" font-size="4.6" font-weight="normal" fill="#2a2a2a" textLength="4.50" lengthAdjust="spacingAndGlyphs">36</text>
<text x="362.00" y="113.16" font-size="4.6" font-weight="normal" fill="#2a2a2a" textLength="4.50" lengthAdjust="spacingAndGlyphs">35</text>
<text x="368.00" y="113.16" font-size="4.6" font-weight="normal" fill="#2a2a2a" textLength="4.50" lengthAdjust="spacingAndGlyphs">35</text>
<text x="392.00" y="113.16" font-size="4.6" font-weight="normal" fill="#2a2a2a" textLength="4.50" lengthAdjust="spacingAndGlyphs">34</text>
<text x="398.50" y="113.16" font-size="4.6" font-weight="normal" fill="#2a2a2a" textLength="4.50" lengthAdjust="spacingAndGlyphs">33</text>
<text x="418.00" y="113.16" font-size="4.6" font-weight="normal" fill="#2a2a2a" textLength="4.50" lengthAdjust="spacingAndGlyphs">29</text>
<text x="424.50" y="113.16" font-size="4.6" font-weight="normal" fill="#2a2a2a" textLength="4.50" lengthAdjust="spacingAndGlyphs">27</text>
<text x="445.00" y="113.16" font-size="4.6" font-weight="normal" fill="#2a2a2a" textLength="4.50" lengthAdjust="spacingAndGlyphs">29</text>
<text x="451.50" y="113.16" font-size="4.6" font-weight="normal" fill="#2a2a2a" textLength="4.50" lengthAdjust="spacingAndGlyphs">27</text>
<text x="471.00" y="113.16" font-size="4.6" font-weight="normal" fill="#2a2a2a" textLength="4.50" lengthAdjust="spacingAndGlyphs">25</text>
<text x="477.50" y="113.16" font-size="4.6" font-weight="normal" fill="#2a2a2a" textLength="4.50" lengthAdjust="spacingAndGlyphs">25</text>
<text x="497.00" y="113.16" font-size="4.6" font-weight="normal" fill="#2a2a2a" textLength="4.50" lengthAdjust="spacingAndGlyphs">24</text>
<text x="502.50" y="113.16" font-size="4.6" font-weight="normal" fill="#2a2a2a" textLength="4.50" lengthAdjust="spacingAndGlyphs">24</text>
<text x="6.56" y="139.20" font-size="10.97" font-weight="bold" fill="#000" stroke="#000" stroke-width="0.45">C</text>
<line x1="46.00" y1="142.50" x2="46.00" y2="208.60" stroke="#333" stroke-width="1.3" />
<line x1="43.50" y1="144.92" x2="46.00" y2="144.92" stroke="#333" stroke-width="1" />
<text x="36.96" y="146.47" font-size="4.3" font-weight="normal" fill="#3a3a3a" textLength="2.34" lengthAdjust="spacingAndGlyphs">6</text>
<line x1="43.50" y1="150.18" x2="46.00" y2="150.18" stroke="#333" stroke-width="1" />
<text x="36.96" y="151.73" font-size="4.3" font-weight="normal" fill="#3a3a3a" textLength="2.34" lengthAdjust="spacingAndGlyphs">4</text>
<line x1="43.50" y1="155.44" x2="46.00" y2="155.44" stroke="#333" stroke-width="1" />
<text x="36.96" y="156.99" font-size="4.3" font-weight="normal" fill="#3a3a3a" textLength="2.34" lengthAdjust="spacingAndGlyphs">2</text>
<line x1="43.50" y1="160.70" x2="46.00" y2="160.70" stroke="#333" stroke-width="1" />
<text x="36.96" y="162.25" font-size="4.3" font-weight="normal" fill="#3a3a3a" textLength="2.34" lengthAdjust="spacingAndGlyphs">0</text>
<line x1="43.50" y1="165.96" x2="46.00" y2="165.96" stroke="#333" stroke-width="1" />
<text x="34.50" y="167.51" font-size="4.3" font-weight="normal" fill="#3a3a3a" textLength="4.80" lengthAdjust="spacingAndGlyphs">−2</text>
<line x1="43.50" y1="171.22" x2="46.00" y2="171.22" stroke="#333" stroke-width="1" />
<text x="34.50" y="172.77" font-size="4.3" font-weight="normal" fill="#3a3a3a" textLength="4.80" lengthAdjust="spacingAndGlyphs">−4</text>
<line x1="43.50" y1="176.48" x2="46.00" y2="176.48" stroke="#333" stroke-width="1" />
<text x="34.50" y="178.03" font-size="4.3" font-weight="normal" fill="#3a3a3a" textLength="4.80" lengthAdjust="spacingAndGlyphs">−6</text>
<line x1="43.50" y1="181.74" x2="46.00" y2="181.74" stroke="#333" stroke-width="1" />
<text x="34.50" y="183.29" font-size="4.3" font-weight="normal" fill="#3a3a3a" textLength="4.80" lengthAdjust="spacingAndGlyphs">−8</text>
<line x1="43.50" y1="187.00" x2="46.00" y2="187.00" stroke="#333" stroke-width="1" />
<text x="32.15" y="188.55" font-size="4.3" font-weight="normal" fill="#3a3a3a" textLength="7.15" lengthAdjust="spacingAndGlyphs">−10</text>
<line x1="43.50" y1="192.26" x2="46.00" y2="192.26" stroke="#333" stroke-width="1" />
<text x="32.15" y="193.81" font-size="4.3" font-weight="normal" fill="#3a3a3a" textLength="7.15" lengthAdjust="spacingAndGlyphs">−12</text>
<line x1="43.50" y1="197.52" x2="46.00" y2="197.52" stroke="#333" stroke-width="1" />
<text x="32.15" y="199.07" font-size="4.3" font-weight="normal" fill="#3a3a3a" textLength="7.15" lengthAdjust="spacingAndGlyphs">−14</text>
<line x1="43.50" y1="202.78" x2="46.00" y2="202.78" stroke="#333" stroke-width="1" />
<text x="32.15" y="204.33" font-size="4.3" font-weight="normal" fill="#3a3a3a" textLength="7.15" lengthAdjust="spacingAndGlyphs">−16</text>
<line x1="43.50" y1="208.04" x2="46.00" y2="208.04" stroke="#333" stroke-width="1" />
<text x="32.15" y="209.59" font-size="4.3" font-weight="normal" fill="#3a3a3a" textLength="7.15" lengthAdjust="spacingAndGlyphs">−18</text>
<g transform="translate(18.75,175.15) rotate(-90)"><text x="-28.85" y="1.80" font-size="6.0" font-weight="bold" fill="#2a2a2a" stroke="#2a2a2a" stroke-width="0.0" textLength="57.70" lengthAdjust="spacingAndGlyphs">Median hepcidin daily change</text></g>
<g transform="translate(25.50,172.45) rotate(-90)"><text x="-26.95" y="1.80" font-size="6.0" font-weight="bold" fill="#2a2a2a" stroke="#2a2a2a" stroke-width="0.0" textLength="53.90" lengthAdjust="spacingAndGlyphs">(Q1, Q3), nM (6hr post – pre)</text></g>
<line x1="45.35" y1="208.00" x2="251.00" y2="208.00" stroke="#333" stroke-width="1.3" />
<line x1="52.60" y1="208.00" x2="52.60" y2="210.50" stroke="#333" stroke-width="0.9" />
<line x1="69.10" y1="208.00" x2="69.10" y2="210.50" stroke="#333" stroke-width="0.9" />
<line x1="88.80" y1="208.00" x2="88.80" y2="210.50" stroke="#333" stroke-width="0.9" />
<line x1="102.20" y1="208.00" x2="102.20" y2="210.50" stroke="#333" stroke-width="0.9" />
<line x1="133.60" y1="208.00" x2="133.60" y2="210.50" stroke="#333" stroke-width="0.9" />
<line x1="160.10" y1="208.00" x2="160.10" y2="210.50" stroke="#333" stroke-width="0.9" />
<line x1="186.40" y1="208.00" x2="186.40" y2="210.50" stroke="#333" stroke-width="0.9" />
<line x1="212.90" y1="208.00" x2="212.90" y2="210.50" stroke="#333" stroke-width="0.9" />
<line x1="239.60" y1="208.00" x2="239.60" y2="210.50" stroke="#333" stroke-width="0.9" />
<line x1="52.60" y1="149.00" x2="52.60" y2="169.30" stroke="#9fcb86" stroke-width="1.1" />
<line x1="69.10" y1="169.50" x2="69.10" y2="197.70" stroke="#9fcb86" stroke-width="1.1" />
<line x1="88.80" y1="162.80" x2="88.80" y2="184.40" stroke="#9fcb86" stroke-width="1.1" />
<line x1="102.20" y1="160.70" x2="102.20" y2="185.80" stroke="#9fcb86" stroke-width="1.1" />
<line x1="133.60" y1="162.10" x2="133.60" y2="188.90" stroke="#9fcb86" stroke-width="1.1" />
<line x1="160.10" y1="159.70" x2="160.10" y2="182.70" stroke="#9fcb86" stroke-width="1.1" />
<line x1="186.40" y1="158.00" x2="186.40" y2="182.70" stroke="#9fcb86" stroke-width="1.1" />
<line x1="212.90" y1="156.60" x2="212.90" y2="184.40" stroke="#9fcb86" stroke-width="1.1" />
<line x1="239.60" y1="160.70" x2="239.60" y2="176.70" stroke="#9fcb86" stroke-width="1.1" />
<polyline points="52.60,160.70 69.10,183.30 88.80,177.20 102.20,174.70 133.60,172.00 160.10,171.40 186.40,167.90 212.90,174.50 239.60,164.40" fill="none" stroke="#7ab95e" stroke-width="1.0" stroke-linejoin="round" />
<circle cx="52.60" cy="160.70" r="1.5" fill="#4f9a2f"/>
<circle cx="69.10" cy="183.30" r="1.5" fill="#4f9a2f"/>
<circle cx="88.80" cy="177.20" r="1.5" fill="#4f9a2f"/>
<circle cx="102.20" cy="174.70" r="1.5" fill="#4f9a2f"/>
<circle cx="133.60" cy="172.00" r="1.5" fill="#4f9a2f"/>
<circle cx="160.10" cy="171.40" r="1.5" fill="#4f9a2f"/>
<circle cx="186.40" cy="167.90" r="1.5" fill="#4f9a2f"/>
<circle cx="212.90" cy="174.50" r="1.5" fill="#4f9a2f"/>
<circle cx="239.60" cy="164.40" r="1.5" fill="#4f9a2f"/>
<line x1="217.60" y1="144.30" x2="223.80" y2="144.30" stroke="#7ab95e" stroke-width="1.0" />
<text x="226.90" y="145.96" font-size="4.6" font-weight="normal" fill="#2a2a2a" textLength="12.70" lengthAdjust="spacingAndGlyphs">Overall</text>
<text x="43.80" y="217.73" font-size="4.8" font-weight="normal" fill="#2a2a2a" textLength="16.30" lengthAdjust="spacingAndGlyphs">Baseline</text>
<text x="61.20" y="217.73" font-size="4.8" font-weight="normal" fill="#2a2a2a" textLength="19.40" lengthAdjust="spacingAndGlyphs">Enrollment</text>
<text x="82.30" y="217.73" font-size="4.8" font-weight="normal" fill="#2a2a2a" textLength="14.80" lengthAdjust="spacingAndGlyphs">Week 2</text>
<text x="98.20" y="217.73" font-size="4.8" font-weight="normal" fill="#2a2a2a" textLength="14.80" lengthAdjust="spacingAndGlyphs">Week 4</text>
<text x="126.70" y="217.73" font-size="4.8" font-weight="normal" fill="#2a2a2a" textLength="14.40" lengthAdjust="spacingAndGlyphs">Week 8</text>
<text x="151.50" y="217.73" font-size="4.8" font-weight="normal" fill="#2a2a2a" textLength="16.90" lengthAdjust="spacingAndGlyphs">Week 12</text>
<text x="178.00" y="217.73" font-size="4.8" font-weight="normal" fill="#2a2a2a" textLength="17.00" lengthAdjust="spacingAndGlyphs">Week 16</text>
<text x="204.60" y="217.73" font-size="4.8" font-weight="normal" fill="#2a2a2a" textLength="17.40" lengthAdjust="spacingAndGlyphs">Week 20</text>
<text x="231.20" y="217.73" font-size="4.8" font-weight="normal" fill="#2a2a2a" textLength="16.80" lengthAdjust="spacingAndGlyphs">Week 24</text>
<text x="144.20" y="227.32" font-size="7.0" font-weight="bold" fill="#444" textLength="8.50" lengthAdjust="spacingAndGlyphs">Visit</text>
<text x="22.60" y="235.66" font-size="4.6" font-weight="normal" fill="#2a2a2a" textLength="12.40" lengthAdjust="spacingAndGlyphs">Overall</text>
<text x="38.40" y="235.66" font-size="4.6" font-weight="normal" fill="#2a2a2a" textLength="5.90" lengthAdjust="spacingAndGlyphs">N=</text>
<text x="50.30" y="235.66" font-size="4.6" font-weight="normal" fill="#2a2a2a" textLength="4.80" lengthAdjust="spacingAndGlyphs">38</text>
<text x="65.60" y="235.66" font-size="4.6" font-weight="normal" fill="#2a2a2a" textLength="4.80" lengthAdjust="spacingAndGlyphs">40</text>
<text x="87.60" y="235.66" font-size="4.6" font-weight="normal" fill="#2a2a2a" textLength="4.80" lengthAdjust="spacingAndGlyphs">36</text>
<text x="99.60" y="235.66" font-size="4.6" font-weight="normal" fill="#2a2a2a" textLength="4.80" lengthAdjust="spacingAndGlyphs">34</text>
<text x="131.30" y="235.66" font-size="4.6" font-weight="normal" fill="#2a2a2a" textLength="4.80" lengthAdjust="spacingAndGlyphs">33</text>
<text x="157.80" y="235.66" font-size="4.6" font-weight="normal" fill="#2a2a2a" textLength="4.80" lengthAdjust="spacingAndGlyphs">26</text>
<text x="184.10" y="235.66" font-size="4.6" font-weight="normal" fill="#2a2a2a" textLength="4.80" lengthAdjust="spacingAndGlyphs">27</text>
<text x="210.80" y="235.66" font-size="4.6" font-weight="normal" fill="#2a2a2a" textLength="4.80" lengthAdjust="spacingAndGlyphs">25</text>
<text x="237.30" y="235.66" font-size="4.6" font-weight="normal" fill="#2a2a2a" textLength="4.80" lengthAdjust="spacingAndGlyphs">24</text>
<text x="270.57" y="138.90" font-size="10.70" font-weight="bold" fill="#000" stroke="#000" stroke-width="0.45">D</text>
<line x1="308.10" y1="142.50" x2="308.10" y2="208.20" stroke="#333" stroke-width="1.3" />
<line x1="305.60" y1="145.12" x2="308.10" y2="145.12" stroke="#333" stroke-width="1" />
<text x="300.06" y="146.67" font-size="4.3" font-weight="normal" fill="#3a3a3a" textLength="2.34" lengthAdjust="spacingAndGlyphs">6</text>
<line x1="305.60" y1="150.38" x2="308.10" y2="150.38" stroke="#333" stroke-width="1" />
<text x="300.06" y="151.93" font-size="4.3" font-weight="normal" fill="#3a3a3a" textLength="2.34" lengthAdjust="spacingAndGlyphs">4</text>
<line x1="305.60" y1="155.64" x2="308.10" y2="155.64" stroke="#333" stroke-width="1" />
<text x="300.06" y="157.19" font-size="4.3" font-weight="normal" fill="#3a3a3a" textLength="2.34" lengthAdjust="spacingAndGlyphs">2</text>
<line x1="305.60" y1="160.90" x2="308.10" y2="160.90" stroke="#333" stroke-width="1" />
<text x="300.06" y="162.45" font-size="4.3" font-weight="normal" fill="#3a3a3a" textLength="2.34" lengthAdjust="spacingAndGlyphs">0</text>
<line x1="305.60" y1="166.16" x2="308.10" y2="166.16" stroke="#333" stroke-width="1" />
<text x="297.60" y="167.71" font-size="4.3" font-weight="normal" fill="#3a3a3a" textLength="4.80" lengthAdjust="spacingAndGlyphs">−2</text>
<line x1="305.60" y1="171.42" x2="308.10" y2="171.42" stroke="#333" stroke-width="1" />
<text x="297.60" y="172.97" font-size="4.3" font-weight="normal" fill="#3a3a3a" textLength="4.80" lengthAdjust="spacingAndGlyphs">−4</text>
<line x1="305.60" y1="176.68" x2="308.10" y2="176.68" stroke="#333" stroke-width="1" />
<text x="297.60" y="178.23" font-size="4.3" font-weight="normal" fill="#3a3a3a" textLength="4.80" lengthAdjust="spacingAndGlyphs">−6</text>
<line x1="305.60" y1="181.94" x2="308.10" y2="181.94" stroke="#333" stroke-width="1" />
<text x="297.60" y="183.49" font-size="4.3" font-weight="normal" fill="#3a3a3a" textLength="4.80" lengthAdjust="spacingAndGlyphs">−8</text>
<line x1="305.60" y1="187.20" x2="308.10" y2="187.20" stroke="#333" stroke-width="1" />
<text x="295.25" y="188.75" font-size="4.3" font-weight="normal" fill="#3a3a3a" textLength="7.15" lengthAdjust="spacingAndGlyphs">−10</text>
<line x1="305.60" y1="192.46" x2="308.10" y2="192.46" stroke="#333" stroke-width="1" />
<text x="295.25" y="194.01" font-size="4.3" font-weight="normal" fill="#3a3a3a" textLength="7.15" lengthAdjust="spacingAndGlyphs">−12</text>
<line x1="305.60" y1="197.72" x2="308.10" y2="197.72" stroke="#333" stroke-width="1" />
<text x="295.25" y="199.27" font-size="4.3" font-weight="normal" fill="#3a3a3a" textLength="7.15" lengthAdjust="spacingAndGlyphs">−14</text>
<line x1="305.60" y1="202.98" x2="308.10" y2="202.98" stroke="#333" stroke-width="1" />
<text x="295.25" y="204.53" font-size="4.3" font-weight="normal" fill="#3a3a3a" textLength="7.15" lengthAdjust="spacingAndGlyphs">−16</text>
<line x1="305.60" y1="208.24" x2="308.10" y2="208.24" stroke="#333" stroke-width="1" />
<text x="295.25" y="209.79" font-size="4.3" font-weight="normal" fill="#3a3a3a" textLength="7.15" lengthAdjust="spacingAndGlyphs">−18</text>
<g transform="translate(280.75,175.15) rotate(-90)"><text x="-28.85" y="1.80" font-size="6.0" font-weight="bold" fill="#2a2a2a" stroke="#2a2a2a" stroke-width="0.0" textLength="57.70" lengthAdjust="spacingAndGlyphs">Median hepcidin daily change</text></g>
<g transform="translate(287.50,172.45) rotate(-90)"><text x="-26.95" y="1.80" font-size="6.0" font-weight="bold" fill="#2a2a2a" stroke="#2a2a2a" stroke-width="0.0" textLength="53.90" lengthAdjust="spacingAndGlyphs">(Q1, Q3), nM (6hr post – pre)</text></g>
<line x1="307.45" y1="207.60" x2="513.00" y2="207.60" stroke="#333" stroke-width="1.3" />
<line x1="314.40" y1="207.60" x2="314.40" y2="210.10" stroke="#333" stroke-width="0.9" />
<line x1="331.50" y1="207.60" x2="331.50" y2="210.10" stroke="#333" stroke-width="0.9" />
<line x1="351.40" y1="207.60" x2="351.40" y2="210.10" stroke="#333" stroke-width="0.9" />
<line x1="364.40" y1="207.60" x2="364.40" y2="210.10" stroke="#333" stroke-width="0.9" />
<line x1="395.70" y1="207.60" x2="395.70" y2="210.10" stroke="#333" stroke-width="0.9" />
<line x1="422.00" y1="207.60" x2="422.00" y2="210.10" stroke="#333" stroke-width="0.9" />
<line x1="448.60" y1="207.60" x2="448.60" y2="210.10" stroke="#333" stroke-width="0.9" />
<line x1="475.00" y1="207.60" x2="475.00" y2="210.10" stroke="#333" stroke-width="0.9" />
<line x1="501.70" y1="207.60" x2="501.70" y2="210.10" stroke="#333" stroke-width="0.9" />
<line x1="316.20" y1="149.00" x2="316.20" y2="168.80" stroke="#7d97c4" stroke-width="1.1" />
<line x1="332.90" y1="176.00" x2="332.90" y2="202.20" stroke="#7d97c4" stroke-width="1.1" />
<line x1="352.90" y1="163.80" x2="352.90" y2="190.10" stroke="#7d97c4" stroke-width="1.1" />
<line x1="365.80" y1="164.80" x2="365.80" y2="186.00" stroke="#7d97c4" stroke-width="1.1" />
<line x1="397.10" y1="155.20" x2="397.10" y2="207.00" stroke="#7d97c4" stroke-width="1.1" />
<line x1="423.50" y1="164.80" x2="423.50" y2="183.70" stroke="#7d97c4" stroke-width="1.1" />
<line x1="450.30" y1="155.60" x2="450.30" y2="200.40" stroke="#7d97c4" stroke-width="1.1" />
<line x1="476.60" y1="165.80" x2="476.60" y2="193.60" stroke="#7d97c4" stroke-width="1.1" />
<line x1="503.30" y1="160.70" x2="503.30" y2="180.70" stroke="#7d97c4" stroke-width="1.1" />
<line x1="314.40" y1="148.10" x2="314.40" y2="170.00" stroke="#d4607a" stroke-width="1.1" />
<line x1="331.50" y1="164.30" x2="331.50" y2="186.00" stroke="#d4607a" stroke-width="1.1" />
<line x1="351.40" y1="161.70" x2="351.40" y2="184.40" stroke="#d4607a" stroke-width="1.1" />
<line x1="364.40" y1="160.70" x2="364.40" y2="182.30" stroke="#d4607a" stroke-width="1.1" />
<line x1="395.70" y1="163.20" x2="395.70" y2="179.20" stroke="#d4607a" stroke-width="1.1" />
<line x1="422.00" y1="159.00" x2="422.00" y2="177.20" stroke="#d4607a" stroke-width="1.1" />
<line x1="448.60" y1="155.00" x2="448.60" y2="178.20" stroke="#d4607a" stroke-width="1.1" />
<line x1="475.00" y1="149.80" x2="475.00" y2="177.20" stroke="#d4607a" stroke-width="1.1" />
<line x1="501.70" y1="160.30" x2="501.70" y2="172.60" stroke="#d4607a" stroke-width="1.1" />
<polyline points="316.20,161.30 332.90,190.30 352.90,178.60 365.80,180.70 397.10,174.70 423.50,176.10 450.30,172.60 476.60,181.70 503.30,165.80" fill="none" stroke="#3a5a96" stroke-width="0.9" stroke-linejoin="round" />
<polyline points="314.40,165.00 331.50,173.20 351.40,173.00 364.40,167.30 395.70,167.90 422.00,164.20 448.60,161.30 475.00,160.30 501.70,163.20" fill="none" stroke="#c33a58" stroke-width="0.9" stroke-linejoin="round" />
<polygon points="316.20,159.40 317.90,162.50 314.50,162.50" fill="#3a5a96"/>
<polygon points="332.90,188.40 334.60,191.50 331.20,191.50" fill="#3a5a96"/>
<polygon points="352.90,176.70 354.60,179.80 351.20,179.80" fill="#3a5a96"/>
<polygon points="365.80,178.80 367.50,181.90 364.10,181.90" fill="#3a5a96"/>
<polygon points="397.10,172.80 398.80,175.90 395.40,175.90" fill="#3a5a96"/>
<polygon points="423.50,174.20 425.20,177.30 421.80,177.30" fill="#3a5a96"/>
<polygon points="450.30,170.70 452.00,173.80 448.60,173.80" fill="#3a5a96"/>
<polygon points="476.60,179.80 478.30,182.90 474.90,182.90" fill="#3a5a96"/>
<polygon points="503.30,163.90 505.00,167.00 501.60,167.00" fill="#3a5a96"/>
<circle cx="314.40" cy="165.00" r="1.3" fill="#a8183c"/>
<circle cx="331.50" cy="173.20" r="1.3" fill="#a8183c"/>
<circle cx="351.40" cy="173.00" r="1.3" fill="#a8183c"/>
<circle cx="364.40" cy="167.30" r="1.3" fill="#a8183c"/>
<circle cx="395.70" cy="167.90" r="1.3" fill="#a8183c"/>
<circle cx="422.00" cy="164.20" r="1.3" fill="#a8183c"/>
<circle cx="448.60" cy="161.30" r="1.3" fill="#a8183c"/>
<circle cx="475.00" cy="160.30" r="1.3" fill="#a8183c"/>
<circle cx="501.70" cy="163.20" r="1.3" fill="#a8183c"/>
<line x1="331.90" y1="144.30" x2="339.00" y2="144.30" stroke="#3a5a96" stroke-width="1.0" />
<text x="341.10" y="145.96" font-size="4.6" font-weight="normal" fill="#2a2a2a" textLength="11.30" lengthAdjust="spacingAndGlyphs">TI-NR</text>
<line x1="355.90" y1="144.30" x2="362.70" y2="144.30" stroke="#c33a58" stroke-width="1.0" />
<text x="364.80" y="145.96" font-size="4.6" font-weight="normal" fill="#2a2a2a" textLength="7.20" lengthAdjust="spacingAndGlyphs">TI-R</text>
<text x="306.50" y="217.93" font-size="4.8" font-weight="normal" fill="#2a2a2a" textLength="16.10" lengthAdjust="spacingAndGlyphs">Baseline</text>
<text x="323.50" y="217.93" font-size="4.8" font-weight="normal" fill="#2a2a2a" textLength="19.20" lengthAdjust="spacingAndGlyphs">Enrollment</text>
<text x="344.50" y="217.93" font-size="4.8" font-weight="normal" fill="#2a2a2a" textLength="14.40" lengthAdjust="spacingAndGlyphs">Week 2</text>
<text x="360.70" y="217.93" font-size="4.8" font-weight="normal" fill="#2a2a2a" textLength="14.30" lengthAdjust="spacingAndGlyphs">Week 4</text>
<text x="389.40" y="217.93" font-size="4.8" font-weight="normal" fill="#2a2a2a" textLength="14.30" lengthAdjust="spacingAndGlyphs">Week 8</text>
<text x="415.00" y="217.93" font-size="4.8" font-weight="normal" fill="#2a2a2a" textLength="16.70" lengthAdjust="spacingAndGlyphs">Week 12</text>
<text x="441.40" y="217.93" font-size="4.8" font-weight="normal" fill="#2a2a2a" textLength="16.60" lengthAdjust="spacingAndGlyphs">Week 16</text>
<text x="467.50" y="217.93" font-size="4.8" font-weight="normal" fill="#2a2a2a" textLength="17.00" lengthAdjust="spacingAndGlyphs">Week 20</text>
<text x="494.40" y="217.93" font-size="4.8" font-weight="normal" fill="#2a2a2a" textLength="16.60" lengthAdjust="spacingAndGlyphs">Week 24</text>
<text x="406.00" y="227.22" font-size="7.0" font-weight="bold" fill="#444" textLength="9.00" lengthAdjust="spacingAndGlyphs">Visit</text>
<text x="284.30" y="235.66" font-size="4.6" font-weight="normal" fill="#2a2a2a" textLength="12.90" lengthAdjust="spacingAndGlyphs">Overall</text>
<text x="289.60" y="243.36" font-size="4.6" font-weight="normal" fill="#c0304e" textLength="7.60" lengthAdjust="spacingAndGlyphs">TI-R</text>
<text x="286.80" y="250.86" font-size="4.6" font-weight="normal" fill="#3a5a96" textLength="10.40" lengthAdjust="spacingAndGlyphs">TI-NR</text>
<text x="300.70" y="235.66" font-size="4.6" font-weight="normal" fill="#2a2a2a" textLength="6.20" lengthAdjust="spacingAndGlyphs">N=</text>
<text x="300.70" y="243.36" font-size="4.6" font-weight="normal" fill="#2a2a2a" textLength="6.20" lengthAdjust="spacingAndGlyphs">N=</text>
<text x="300.70" y="250.86" font-size="4.6" font-weight="normal" fill="#2a2a2a" textLength="6.20" lengthAdjust="spacingAndGlyphs">N=</text>
<text x="312.10" y="235.66" font-size="4.6" font-weight="normal" fill="#2a2a2a" textLength="4.80" lengthAdjust="spacingAndGlyphs">38</text>
<text x="330.90" y="235.66" font-size="4.6" font-weight="normal" fill="#2a2a2a" textLength="4.80" lengthAdjust="spacingAndGlyphs">40</text>
<text x="348.90" y="235.66" font-size="4.6" font-weight="normal" fill="#2a2a2a" textLength="4.80" lengthAdjust="spacingAndGlyphs">36</text>
<text x="365.10" y="235.66" font-size="4.6" font-weight="normal" fill="#2a2a2a" textLength="4.80" lengthAdjust="spacingAndGlyphs">34</text>
<text x="394.30" y="235.66" font-size="4.6" font-weight="normal" fill="#2a2a2a" textLength="4.80" lengthAdjust="spacingAndGlyphs">33</text>
<text x="420.60" y="235.66" font-size="4.6" font-weight="normal" fill="#2a2a2a" textLength="4.80" lengthAdjust="spacingAndGlyphs">26</text>
<text x="446.80" y="235.66" font-size="4.6" font-weight="normal" fill="#2a2a2a" textLength="4.80" lengthAdjust="spacingAndGlyphs">27</text>
<text x="473.70" y="235.66" font-size="4.6" font-weight="normal" fill="#2a2a2a" textLength="4.80" lengthAdjust="spacingAndGlyphs">25</text>
<text x="500.10" y="235.66" font-size="4.6" font-weight="normal" fill="#2a2a2a" textLength="4.80" lengthAdjust="spacingAndGlyphs">24</text>
<text x="312.10" y="243.36" font-size="4.6" font-weight="normal" fill="#2a2a2a" textLength="4.80" lengthAdjust="spacingAndGlyphs">13</text>
<text x="330.90" y="243.36" font-size="4.6" font-weight="normal" fill="#2a2a2a" textLength="4.80" lengthAdjust="spacingAndGlyphs">14</text>
<text x="348.90" y="243.36" font-size="4.6" font-weight="normal" fill="#2a2a2a" textLength="4.80" lengthAdjust="spacingAndGlyphs">13</text>
<text x="365.10" y="243.36" font-size="4.6" font-weight="normal" fill="#2a2a2a" textLength="4.80" lengthAdjust="spacingAndGlyphs">13</text>
<text x="394.30" y="243.36" font-size="4.6" font-weight="normal" fill="#2a2a2a" textLength="4.80" lengthAdjust="spacingAndGlyphs">14</text>
<text x="420.60" y="243.36" font-size="4.6" font-weight="normal" fill="#2a2a2a" textLength="4.80" lengthAdjust="spacingAndGlyphs">12</text>
<text x="446.80" y="243.36" font-size="4.6" font-weight="normal" fill="#2a2a2a" textLength="4.80" lengthAdjust="spacingAndGlyphs">13</text>
<text x="473.70" y="243.36" font-size="4.6" font-weight="normal" fill="#2a2a2a" textLength="4.80" lengthAdjust="spacingAndGlyphs">13</text>
<text x="500.10" y="243.36" font-size="4.6" font-weight="normal" fill="#2a2a2a" textLength="4.80" lengthAdjust="spacingAndGlyphs">13</text>
<text x="312.10" y="250.86" font-size="4.6" font-weight="normal" fill="#2a2a2a" textLength="4.80" lengthAdjust="spacingAndGlyphs">25</text>
<text x="330.90" y="250.86" font-size="4.6" font-weight="normal" fill="#2a2a2a" textLength="4.80" lengthAdjust="spacingAndGlyphs">26</text>
<text x="348.90" y="250.86" font-size="4.6" font-weight="normal" fill="#2a2a2a" textLength="4.80" lengthAdjust="spacingAndGlyphs">23</text>
<text x="365.10" y="250.86" font-size="4.6" font-weight="normal" fill="#2a2a2a" textLength="4.80" lengthAdjust="spacingAndGlyphs">21</text>
<text x="394.30" y="250.86" font-size="4.6" font-weight="normal" fill="#2a2a2a" textLength="4.80" lengthAdjust="spacingAndGlyphs">19</text>
<text x="420.60" y="250.86" font-size="4.6" font-weight="normal" fill="#2a2a2a" textLength="4.80" lengthAdjust="spacingAndGlyphs">14</text>
<text x="446.80" y="250.86" font-size="4.6" font-weight="normal" fill="#2a2a2a" textLength="4.80" lengthAdjust="spacingAndGlyphs">14</text>
<text x="473.70" y="250.86" font-size="4.6" font-weight="normal" fill="#2a2a2a" textLength="4.80" lengthAdjust="spacingAndGlyphs">12</text>
<text x="500.10" y="250.86" font-size="4.6" font-weight="normal" fill="#2a2a2a" textLength="4.80" lengthAdjust="spacingAndGlyphs">11</text>
<text x="7.36" y="277.00" font-size="11.11" font-weight="bold" fill="#000" stroke="#000" stroke-width="0.45">E</text>
<line x1="46.30" y1="280.30" x2="46.30" y2="345.90" stroke="#333" stroke-width="1.3" />
<line x1="43.80" y1="345.90" x2="46.30" y2="345.90" stroke="#333" stroke-width="1" />
<text x="37.51" y="347.41" font-size="4.2" font-weight="normal" fill="#3a3a3a" textLength="2.29" lengthAdjust="spacingAndGlyphs">0</text>
<line x1="43.80" y1="341.08" x2="46.30" y2="341.08" stroke="#333" stroke-width="1" />
<text x="37.51" y="342.60" font-size="4.2" font-weight="normal" fill="#3a3a3a" textLength="2.29" lengthAdjust="spacingAndGlyphs">5</text>
<line x1="43.80" y1="336.27" x2="46.30" y2="336.27" stroke="#333" stroke-width="1" />
<text x="35.22" y="337.78" font-size="4.2" font-weight="normal" fill="#3a3a3a" textLength="4.58" lengthAdjust="spacingAndGlyphs">10</text>
<line x1="43.80" y1="331.45" x2="46.30" y2="331.45" stroke="#333" stroke-width="1" />
<text x="35.22" y="332.97" font-size="4.2" font-weight="normal" fill="#3a3a3a" textLength="4.58" lengthAdjust="spacingAndGlyphs">15</text>
<line x1="43.80" y1="326.64" x2="46.30" y2="326.64" stroke="#333" stroke-width="1" />
<text x="35.22" y="328.15" font-size="4.2" font-weight="normal" fill="#3a3a3a" textLength="4.58" lengthAdjust="spacingAndGlyphs">20</text>
<line x1="43.80" y1="321.82" x2="46.30" y2="321.82" stroke="#333" stroke-width="1" />
<text x="35.22" y="323.34" font-size="4.2" font-weight="normal" fill="#3a3a3a" textLength="4.58" lengthAdjust="spacingAndGlyphs">25</text>
<line x1="43.80" y1="317.01" x2="46.30" y2="317.01" stroke="#333" stroke-width="1" />
<text x="35.22" y="318.52" font-size="4.2" font-weight="normal" fill="#3a3a3a" textLength="4.58" lengthAdjust="spacingAndGlyphs">30</text>
<line x1="43.80" y1="312.19" x2="46.30" y2="312.19" stroke="#333" stroke-width="1" />
<text x="35.22" y="313.71" font-size="4.2" font-weight="normal" fill="#3a3a3a" textLength="4.58" lengthAdjust="spacingAndGlyphs">35</text>
<line x1="43.80" y1="307.38" x2="46.30" y2="307.38" stroke="#333" stroke-width="1" />
<text x="35.22" y="308.89" font-size="4.2" font-weight="normal" fill="#3a3a3a" textLength="4.58" lengthAdjust="spacingAndGlyphs">40</text>
<line x1="43.80" y1="302.56" x2="46.30" y2="302.56" stroke="#333" stroke-width="1" />
<text x="35.22" y="304.08" font-size="4.2" font-weight="normal" fill="#3a3a3a" textLength="4.58" lengthAdjust="spacingAndGlyphs">45</text>
<line x1="43.80" y1="297.75" x2="46.30" y2="297.75" stroke="#333" stroke-width="1" />
<text x="35.22" y="299.26" font-size="4.2" font-weight="normal" fill="#3a3a3a" textLength="4.58" lengthAdjust="spacingAndGlyphs">50</text>
<line x1="43.80" y1="292.94" x2="46.30" y2="292.94" stroke="#333" stroke-width="1" />
<text x="35.22" y="294.45" font-size="4.2" font-weight="normal" fill="#3a3a3a" textLength="4.58" lengthAdjust="spacingAndGlyphs">55</text>
<line x1="43.80" y1="288.12" x2="46.30" y2="288.12" stroke="#333" stroke-width="1" />
<text x="35.22" y="289.63" font-size="4.2" font-weight="normal" fill="#3a3a3a" textLength="4.58" lengthAdjust="spacingAndGlyphs">60</text>
<line x1="43.80" y1="283.30" x2="46.30" y2="283.30" stroke="#333" stroke-width="1" />
<text x="35.22" y="284.82" font-size="4.2" font-weight="normal" fill="#3a3a3a" textLength="4.58" lengthAdjust="spacingAndGlyphs">65</text>
<g transform="translate(20.35,312.55) rotate(-90)"><text x="-21.15" y="1.80" font-size="6.0" font-weight="bold" fill="#2a2a2a" stroke="#2a2a2a" stroke-width="0.0" textLength="42.30" lengthAdjust="spacingAndGlyphs">Median hepcidin level</text></g>
<g transform="translate(27.35,312.00) rotate(-90)"><text x="-12.50" y="1.80" font-size="6.0" font-weight="bold" fill="#2a2a2a" stroke="#2a2a2a" stroke-width="0.0" textLength="25.00" lengthAdjust="spacingAndGlyphs">(Q1, Q3), nM</text></g>
<line x1="45.65" y1="345.30" x2="251.00" y2="345.30" stroke="#333" stroke-width="1.3" />
<line x1="52.60" y1="345.30" x2="52.60" y2="347.80" stroke="#333" stroke-width="0.9" />
<line x1="69.10" y1="345.30" x2="69.10" y2="347.80" stroke="#333" stroke-width="0.9" />
<line x1="88.80" y1="345.30" x2="88.80" y2="347.80" stroke="#333" stroke-width="0.9" />
<line x1="102.20" y1="345.30" x2="102.20" y2="347.80" stroke="#333" stroke-width="0.9" />
<line x1="133.60" y1="345.30" x2="133.60" y2="347.80" stroke="#333" stroke-width="0.9" />
<line x1="160.10" y1="345.30" x2="160.10" y2="347.80" stroke="#333" stroke-width="0.9" />
<line x1="186.40" y1="345.30" x2="186.40" y2="347.80" stroke="#333" stroke-width="0.9" />
<line x1="212.90" y1="345.30" x2="212.90" y2="347.80" stroke="#333" stroke-width="0.9" />
<line x1="239.60" y1="345.30" x2="239.60" y2="347.80" stroke="#333" stroke-width="0.9" />
<line x1="53.60" y1="283.40" x2="53.60" y2="318.70" stroke="#7d97c4" stroke-width="1.1" />
<line x1="70.10" y1="289.10" x2="70.10" y2="316.30" stroke="#7d97c4" stroke-width="1.1" />
<line x1="89.80" y1="287.00" x2="89.80" y2="309.10" stroke="#7d97c4" stroke-width="1.1" />
<line x1="103.20" y1="291.00" x2="103.20" y2="307.60" stroke="#7d97c4" stroke-width="1.1" />
<line x1="134.40" y1="288.10" x2="134.40" y2="307.00" stroke="#7d97c4" stroke-width="1.1" />
<line x1="161.10" y1="294.30" x2="161.10" y2="322.40" stroke="#7d97c4" stroke-width="1.1" />
<line x1="187.50" y1="285.00" x2="187.50" y2="303.30" stroke="#7d97c4" stroke-width="1.1" />
<line x1="213.90" y1="297.80" x2="213.90" y2="314.80" stroke="#7d97c4" stroke-width="1.1" />
<line x1="240.30" y1="287.50" x2="240.30" y2="318.30" stroke="#7d97c4" stroke-width="1.1" />
<line x1="52.60" y1="313.20" x2="52.60" y2="336.20" stroke="#d4607a" stroke-width="1.1" />
<line x1="69.10" y1="316.30" x2="69.10" y2="339.90" stroke="#d4607a" stroke-width="1.1" />
<line x1="88.80" y1="317.30" x2="88.80" y2="331.30" stroke="#d4607a" stroke-width="1.1" />
<line x1="102.20" y1="316.30" x2="102.20" y2="337.90" stroke="#d4607a" stroke-width="1.1" />
<line x1="133.60" y1="317.70" x2="133.60" y2="335.80" stroke="#d4607a" stroke-width="1.1" />
<line x1="160.10" y1="316.90" x2="160.10" y2="334.80" stroke="#d4607a" stroke-width="1.1" />
<line x1="186.40" y1="318.30" x2="186.40" y2="338.90" stroke="#d4607a" stroke-width="1.1" />
<line x1="212.90" y1="319.40" x2="212.90" y2="341.00" stroke="#d4607a" stroke-width="1.1" />
<line x1="239.60" y1="318.30" x2="239.60" y2="341.00" stroke="#d4607a" stroke-width="1.1" />
<polyline points="53.60,305.00 70.10,303.50 89.80,295.70 103.20,301.30 134.40,296.30 161.10,302.90 187.50,296.10 213.90,302.90 240.30,296.30" fill="none" stroke="#3a5a96" stroke-width="0.9" stroke-linejoin="round" />
<polyline points="52.60,324.50 69.10,326.60 88.80,321.40 102.20,326.60 133.60,329.60 160.10,325.10 186.40,329.60 212.90,332.70 239.60,330.70" fill="none" stroke="#c33a58" stroke-width="0.9" stroke-linejoin="round" />
<polygon points="53.60,303.00 55.45,306.30 51.75,306.30" fill="#fff" stroke="#3a5a96" stroke-width="0.9" stroke-linejoin="miter"/>
<polygon points="70.10,301.50 71.95,304.80 68.25,304.80" fill="#fff" stroke="#3a5a96" stroke-width="0.9" stroke-linejoin="miter"/>
<polygon points="89.80,293.70 91.65,297.00 87.95,297.00" fill="#fff" stroke="#3a5a96" stroke-width="0.9" stroke-linejoin="miter"/>
<polygon points="103.20,299.30 105.05,302.60 101.35,302.60" fill="#fff" stroke="#3a5a96" stroke-width="0.9" stroke-linejoin="miter"/>
<polygon points="134.40,294.30 136.25,297.60 132.55,297.60" fill="#fff" stroke="#3a5a96" stroke-width="0.9" stroke-linejoin="miter"/>
<polygon points="161.10,300.90 162.95,304.20 159.25,304.20" fill="#fff" stroke="#3a5a96" stroke-width="0.9" stroke-linejoin="miter"/>
<polygon points="187.50,294.10 189.35,297.40 185.65,297.40" fill="#fff" stroke="#3a5a96" stroke-width="0.9" stroke-linejoin="miter"/>
<polygon points="213.90,300.90 215.75,304.20 212.05,304.20" fill="#fff" stroke="#3a5a96" stroke-width="0.9" stroke-linejoin="miter"/>
<polygon points="240.30,294.30 242.15,297.60 238.45,297.60" fill="#fff" stroke="#3a5a96" stroke-width="0.9" stroke-linejoin="miter"/>
<circle cx="52.60" cy="324.50" r="1.35" fill="#fff" stroke="#a8183c" stroke-width="0.9"/>
<circle cx="69.10" cy="326.60" r="1.35" fill="#fff" stroke="#a8183c" stroke-width="0.9"/>
<circle cx="88.80" cy="321.40" r="1.35" fill="#fff" stroke="#a8183c" stroke-width="0.9"/>
<circle cx="102.20" cy="326.60" r="1.35" fill="#fff" stroke="#a8183c" stroke-width="0.9"/>
<circle cx="133.60" cy="329.60" r="1.35" fill="#fff" stroke="#a8183c" stroke-width="0.9"/>
<circle cx="160.10" cy="325.10" r="1.35" fill="#fff" stroke="#a8183c" stroke-width="0.9"/>
<circle cx="186.40" cy="329.60" r="1.35" fill="#fff" stroke="#a8183c" stroke-width="0.9"/>
<circle cx="212.90" cy="332.70" r="1.35" fill="#fff" stroke="#a8183c" stroke-width="0.9"/>
<circle cx="239.60" cy="330.70" r="1.35" fill="#fff" stroke="#a8183c" stroke-width="0.9"/>
<line x1="192.30" y1="282.30" x2="198.90" y2="282.30" stroke="#3a5a96" stroke-width="1.0" />
<text x="201.20" y="283.96" font-size="4.6" font-weight="normal" fill="#2a2a2a" textLength="11.30" lengthAdjust="spacingAndGlyphs">TI-NR</text>
<line x1="215.40" y1="282.30" x2="222.20" y2="282.30" stroke="#c33a58" stroke-width="1.0" />
<text x="224.80" y="283.96" font-size="4.6" font-weight="normal" fill="#2a2a2a" textLength="7.20" lengthAdjust="spacingAndGlyphs">TI-R</text>
<text x="44.20" y="356.03" font-size="4.8" font-weight="normal" fill="#2a2a2a" textLength="16.20" lengthAdjust="spacingAndGlyphs">Baseline</text>
<text x="61.10" y="356.03" font-size="4.8" font-weight="normal" fill="#2a2a2a" textLength="19.40" lengthAdjust="spacingAndGlyphs">Enrollment</text>
<text x="82.30" y="356.03" font-size="4.8" font-weight="normal" fill="#2a2a2a" textLength="13.90" lengthAdjust="spacingAndGlyphs">Week 2</text>
<text x="98.00" y="356.03" font-size="4.8" font-weight="normal" fill="#2a2a2a" textLength="14.30" lengthAdjust="spacingAndGlyphs">Week 4</text>
<text x="126.20" y="356.03" font-size="4.8" font-weight="normal" fill="#2a2a2a" textLength="14.80" lengthAdjust="spacingAndGlyphs">Week 8</text>
<text x="152.00" y="356.03" font-size="4.8" font-weight="normal" fill="#2a2a2a" textLength="16.75" lengthAdjust="spacingAndGlyphs">Week 12</text>
<text x="178.25" y="356.03" font-size="4.8" font-weight="normal" fill="#2a2a2a" textLength="16.75" lengthAdjust="spacingAndGlyphs">Week 16</text>
<text x="205.00" y="356.03" font-size="4.8" font-weight="normal" fill="#2a2a2a" textLength="17.00" lengthAdjust="spacingAndGlyphs">Week 20</text>
<text x="230.75" y="356.03" font-size="4.8" font-weight="normal" fill="#2a2a2a" textLength="16.75" lengthAdjust="spacingAndGlyphs">Week 24</text>
<text x="143.75" y="365.02" font-size="7.0" font-weight="bold" fill="#444" textLength="8.75" lengthAdjust="spacingAndGlyphs">Visit</text>
<text x="28.00" y="373.36" font-size="4.6" font-weight="normal" fill="#c0304e" textLength="7.00" lengthAdjust="spacingAndGlyphs">TI-R</text>
<text x="24.60" y="380.86" font-size="4.6" font-weight="normal" fill="#3a5a96" textLength="10.40" lengthAdjust="spacingAndGlyphs">TI-NR</text>
<text x="38.50" y="373.36" font-size="4.6" font-weight="normal" fill="#2a2a2a" textLength="5.70" lengthAdjust="spacingAndGlyphs">N=</text>
<text x="38.50" y="380.86" font-size="4.6" font-weight="normal" fill="#2a2a2a" textLength="5.70" lengthAdjust="spacingAndGlyphs">N=</text>
<text x="50.30" y="373.36" font-size="4.6" font-weight="normal" fill="#2a2a2a" textLength="4.80" lengthAdjust="spacingAndGlyphs">14</text>
<text x="67.00" y="373.36" font-size="4.6" font-weight="normal" fill="#2a2a2a" textLength="4.80" lengthAdjust="spacingAndGlyphs">14</text>
<text x="88.60" y="373.36" font-size="4.6" font-weight="normal" fill="#2a2a2a" textLength="4.80" lengthAdjust="spacingAndGlyphs">13</text>
<text x="101.10" y="373.36" font-size="4.6" font-weight="normal" fill="#2a2a2a" textLength="4.80" lengthAdjust="spacingAndGlyphs">13</text>
<text x="132.10" y="373.36" font-size="4.6" font-weight="normal" fill="#2a2a2a" textLength="4.80" lengthAdjust="spacingAndGlyphs">14</text>
<text x="158.10" y="373.36" font-size="4.6" font-weight="normal" fill="#2a2a2a" textLength="4.80" lengthAdjust="spacingAndGlyphs">13</text>
<text x="184.10" y="373.36" font-size="4.6" font-weight="normal" fill="#2a2a2a" textLength="4.80" lengthAdjust="spacingAndGlyphs">14</text>
<text x="210.60" y="373.36" font-size="4.6" font-weight="normal" fill="#2a2a2a" textLength="4.80" lengthAdjust="spacingAndGlyphs">13</text>
<text x="237.10" y="373.36" font-size="4.6" font-weight="normal" fill="#2a2a2a" textLength="4.80" lengthAdjust="spacingAndGlyphs">13</text>
<text x="50.30" y="380.86" font-size="4.6" font-weight="normal" fill="#2a2a2a" textLength="4.80" lengthAdjust="spacingAndGlyphs">27</text>
<text x="67.00" y="380.86" font-size="4.6" font-weight="normal" fill="#2a2a2a" textLength="4.80" lengthAdjust="spacingAndGlyphs">27</text>
<text x="88.60" y="380.86" font-size="4.6" font-weight="normal" fill="#2a2a2a" textLength="4.80" lengthAdjust="spacingAndGlyphs">25</text>
<text x="101.10" y="380.86" font-size="4.6" font-weight="normal" fill="#2a2a2a" textLength="4.80" lengthAdjust="spacingAndGlyphs">22</text>
<text x="132.10" y="380.86" font-size="4.6" font-weight="normal" fill="#2a2a2a" textLength="4.80" lengthAdjust="spacingAndGlyphs">20</text>
<text x="158.10" y="380.86" font-size="4.6" font-weight="normal" fill="#2a2a2a" textLength="4.80" lengthAdjust="spacingAndGlyphs">16</text>
<text x="184.10" y="380.86" font-size="4.6" font-weight="normal" fill="#2a2a2a" textLength="4.80" lengthAdjust="spacingAndGlyphs">15</text>
<text x="210.60" y="380.86" font-size="4.6" font-weight="normal" fill="#2a2a2a" textLength="4.80" lengthAdjust="spacingAndGlyphs">12</text>
<text x="237.10" y="380.86" font-size="4.6" font-weight="normal" fill="#2a2a2a" textLength="4.80" lengthAdjust="spacingAndGlyphs">11</text>
<text x="270.55" y="280.50" font-size="11.25" font-weight="bold" fill="#000" stroke="#000" stroke-width="0.45">F</text>
<line x1="308.00" y1="283.50" x2="308.00" y2="345.80" stroke="#333" stroke-width="1.3" />
<line x1="305.40" y1="345.50" x2="308.00" y2="345.50" stroke="#333" stroke-width="1" />
<text x="299.97" y="346.69" font-size="3.3" font-weight="normal" fill="#3a3a3a" textLength="1.93" lengthAdjust="spacingAndGlyphs">0</text>
<line x1="305.40" y1="341.79" x2="308.00" y2="341.79" stroke="#333" stroke-width="1" />
<text x="299.97" y="342.98" font-size="3.3" font-weight="normal" fill="#3a3a3a" textLength="1.93" lengthAdjust="spacingAndGlyphs">2</text>
<line x1="305.40" y1="338.08" x2="308.00" y2="338.08" stroke="#333" stroke-width="1" />
<text x="299.97" y="339.27" font-size="3.3" font-weight="normal" fill="#3a3a3a" textLength="1.93" lengthAdjust="spacingAndGlyphs">4</text>
<line x1="305.40" y1="334.37" x2="308.00" y2="334.37" stroke="#333" stroke-width="1" />
<text x="299.97" y="335.56" font-size="3.3" font-weight="normal" fill="#3a3a3a" textLength="1.93" lengthAdjust="spacingAndGlyphs">6</text>
<line x1="305.40" y1="330.66" x2="308.00" y2="330.66" stroke="#333" stroke-width="1" />
<text x="299.97" y="331.85" font-size="3.3" font-weight="normal" fill="#3a3a3a" textLength="1.93" lengthAdjust="spacingAndGlyphs">8</text>
<line x1="305.40" y1="326.95" x2="308.00" y2="326.95" stroke="#333" stroke-width="1" />
<text x="298.05" y="328.14" font-size="3.3" font-weight="normal" fill="#3a3a3a" textLength="3.85" lengthAdjust="spacingAndGlyphs">10</text>
<line x1="305.40" y1="323.24" x2="308.00" y2="323.24" stroke="#333" stroke-width="1" />
<text x="298.05" y="324.43" font-size="3.3" font-weight="normal" fill="#3a3a3a" textLength="3.85" lengthAdjust="spacingAndGlyphs">12</text>
<line x1="305.40" y1="319.53" x2="308.00" y2="319.53" stroke="#333" stroke-width="1" />
<text x="298.05" y="320.72" font-size="3.3" font-weight="normal" fill="#3a3a3a" textLength="3.85" lengthAdjust="spacingAndGlyphs">14</text>
<line x1="305.40" y1="315.82" x2="308.00" y2="315.82" stroke="#333" stroke-width="1" />
<text x="298.05" y="317.01" font-size="3.3" font-weight="normal" fill="#3a3a3a" textLength="3.85" lengthAdjust="spacingAndGlyphs">16</text>
<line x1="305.40" y1="312.11" x2="308.00" y2="312.11" stroke="#333" stroke-width="1" />
<text x="298.05" y="313.30" font-size="3.3" font-weight="normal" fill="#3a3a3a" textLength="3.85" lengthAdjust="spacingAndGlyphs">18</text>
<line x1="305.40" y1="308.40" x2="308.00" y2="308.40" stroke="#333" stroke-width="1" />
<text x="298.05" y="309.59" font-size="3.3" font-weight="normal" fill="#3a3a3a" textLength="3.85" lengthAdjust="spacingAndGlyphs">20</text>
<line x1="305.40" y1="304.69" x2="308.00" y2="304.69" stroke="#333" stroke-width="1" />
<text x="298.05" y="305.88" font-size="3.3" font-weight="normal" fill="#3a3a3a" textLength="3.85" lengthAdjust="spacingAndGlyphs">22</text>
<line x1="305.40" y1="300.98" x2="308.00" y2="300.98" stroke="#333" stroke-width="1" />
<text x="298.05" y="302.17" font-size="3.3" font-weight="normal" fill="#3a3a3a" textLength="3.85" lengthAdjust="spacingAndGlyphs">24</text>
<line x1="305.40" y1="297.27" x2="308.00" y2="297.27" stroke="#333" stroke-width="1" />
<text x="298.05" y="298.46" font-size="3.3" font-weight="normal" fill="#3a3a3a" textLength="3.85" lengthAdjust="spacingAndGlyphs">26</text>
<line x1="305.40" y1="293.56" x2="308.00" y2="293.56" stroke="#333" stroke-width="1" />
<text x="298.05" y="294.75" font-size="3.3" font-weight="normal" fill="#3a3a3a" textLength="3.85" lengthAdjust="spacingAndGlyphs">28</text>
<line x1="305.40" y1="289.85" x2="308.00" y2="289.85" stroke="#333" stroke-width="1" />
<text x="298.05" y="291.04" font-size="3.3" font-weight="normal" fill="#3a3a3a" textLength="3.85" lengthAdjust="spacingAndGlyphs">30</text>
<line x1="305.40" y1="286.14" x2="308.00" y2="286.14" stroke="#333" stroke-width="1" />
<text x="298.05" y="287.33" font-size="3.3" font-weight="normal" fill="#3a3a3a" textLength="3.85" lengthAdjust="spacingAndGlyphs">32</text>
<g transform="translate(282.45,314.85) rotate(-90)"><text x="-20.45" y="1.80" font-size="6.0" font-weight="bold" fill="#2a2a2a" stroke="#2a2a2a" stroke-width="0.0" textLength="40.90" lengthAdjust="spacingAndGlyphs">Median hepcidin level</text></g>
<g transform="translate(289.80,314.45) rotate(-90)"><text x="-12.85" y="1.80" font-size="6.0" font-weight="bold" fill="#2a2a2a" stroke="#2a2a2a" stroke-width="0.0" textLength="25.70" lengthAdjust="spacingAndGlyphs">(Q1, Q3), nM</text></g>
<line x1="307.35" y1="345.20" x2="512.80" y2="345.20" stroke="#333" stroke-width="1.3" />
<line x1="315.70" y1="345.20" x2="315.70" y2="347.70" stroke="#333" stroke-width="0.9" />
<line x1="331.10" y1="345.20" x2="331.10" y2="347.70" stroke="#333" stroke-width="0.9" />
<line x1="346.60" y1="345.20" x2="346.60" y2="347.70" stroke="#333" stroke-width="0.9" />
<line x1="377.40" y1="345.20" x2="377.40" y2="347.70" stroke="#333" stroke-width="0.9" />
<line x1="408.70" y1="345.20" x2="408.70" y2="347.70" stroke="#333" stroke-width="0.9" />
<line x1="439.50" y1="345.20" x2="439.50" y2="347.70" stroke="#333" stroke-width="0.9" />
<line x1="470.20" y1="345.20" x2="470.20" y2="347.70" stroke="#333" stroke-width="0.9" />
<line x1="501.50" y1="345.20" x2="501.50" y2="347.70" stroke="#333" stroke-width="0.9" />
<line x1="315.70" y1="294.10" x2="315.70" y2="327.60" stroke="#d05a7a" stroke-width="1.0" />
<line x1="331.10" y1="290.60" x2="331.10" y2="323.50" stroke="#d05a7a" stroke-width="1.0" />
<line x1="346.60" y1="290.20" x2="346.60" y2="324.10" stroke="#d05a7a" stroke-width="1.0" />
<line x1="377.40" y1="291.60" x2="377.40" y2="326.60" stroke="#d05a7a" stroke-width="1.0" />
<line x1="408.70" y1="293.60" x2="408.70" y2="328.20" stroke="#d05a7a" stroke-width="1.0" />
<line x1="439.50" y1="288.80" x2="439.50" y2="338.50" stroke="#d05a7a" stroke-width="1.0" />
<line x1="470.20" y1="294.80" x2="470.20" y2="339.70" stroke="#d05a7a" stroke-width="1.0" />
<line x1="501.50" y1="301.70" x2="501.50" y2="339.00" stroke="#d05a7a" stroke-width="1.0" />
<polyline points="315.70,307.70 331.10,309.10 346.60,309.10 377.40,309.50 408.70,318.60 439.50,321.70 470.20,321.20 501.50,327.70" fill="none" stroke="#c33a58" stroke-width="0.9" stroke-linejoin="round" />
<circle cx="315.70" cy="307.70" r="1.35" fill="#fff" stroke="#a8183c" stroke-width="0.9"/>
<circle cx="331.10" cy="309.10" r="1.35" fill="#fff" stroke="#a8183c" stroke-width="0.9"/>
<circle cx="346.60" cy="309.10" r="1.35" fill="#fff" stroke="#a8183c" stroke-width="0.9"/>
<circle cx="377.40" cy="309.50" r="1.35" fill="#fff" stroke="#a8183c" stroke-width="0.9"/>
<circle cx="408.70" cy="318.60" r="1.35" fill="#fff" stroke="#a8183c" stroke-width="0.9"/>
<circle cx="439.50" cy="321.70" r="1.35" fill="#fff" stroke="#a8183c" stroke-width="0.9"/>
<circle cx="470.20" cy="321.20" r="1.35" fill="#fff" stroke="#a8183c" stroke-width="0.9"/>
<circle cx="501.50" cy="327.70" r="1.35" fill="#fff" stroke="#a8183c" stroke-width="0.9"/>
<line x1="496.00" y1="285.60" x2="502.50" y2="285.60" stroke="#c33a58" stroke-width="1.0" />
<text x="505.10" y="287.26" font-size="4.6" font-weight="normal" fill="#2a2a2a" textLength="7.70" lengthAdjust="spacingAndGlyphs">TI-R</text>
<text x="308.75" y="355.98" font-size="4.8" font-weight="normal" fill="#c0304e" textLength="14.25" lengthAdjust="spacingAndGlyphs">Pre-TI-R</text>
<text x="324.25" y="355.98" font-size="4.8" font-weight="normal" fill="#2a2a2a" textLength="13.75" lengthAdjust="spacingAndGlyphs">Week 2</text>
<text x="339.50" y="355.98" font-size="4.8" font-weight="normal" fill="#2a2a2a" textLength="14.25" lengthAdjust="spacingAndGlyphs">Week 4</text>
<text x="370.75" y="355.98" font-size="4.8" font-weight="normal" fill="#2a2a2a" textLength="14.25" lengthAdjust="spacingAndGlyphs">Week 8</text>
<text x="400.00" y="355.98" font-size="4.8" font-weight="normal" fill="#2a2a2a" textLength="17.00" lengthAdjust="spacingAndGlyphs">Week 12</text>
<text x="431.25" y="355.98" font-size="4.8" font-weight="normal" fill="#2a2a2a" textLength="16.75" lengthAdjust="spacingAndGlyphs">Week 16</text>
<text x="462.50" y="355.98" font-size="4.8" font-weight="normal" fill="#2a2a2a" textLength="16.25" lengthAdjust="spacingAndGlyphs">Week 20</text>
<text x="493.25" y="355.98" font-size="4.8" font-weight="normal" fill="#2a2a2a" textLength="16.25" lengthAdjust="spacingAndGlyphs">Week 24</text>
<text x="406.25" y="365.02" font-size="7.0" font-weight="bold" fill="#444" textLength="8.75" lengthAdjust="spacingAndGlyphs">Visit</text>
<text x="291.75" y="373.41" font-size="4.6" font-weight="normal" fill="#c0304e" textLength="7.50" lengthAdjust="spacingAndGlyphs">TI-R</text>
<text x="302.50" y="373.41" font-size="4.6" font-weight="normal" fill="#2a2a2a" textLength="6.75" lengthAdjust="spacingAndGlyphs">N=</text>
<text x="313.70" y="373.41" font-size="4.6" font-weight="normal" fill="#2a2a2a" textLength="4.40" lengthAdjust="spacingAndGlyphs">14</text>
<text x="329.20" y="373.41" font-size="4.6" font-weight="normal" fill="#2a2a2a" textLength="4.40" lengthAdjust="spacingAndGlyphs">10</text>
<text x="344.60" y="373.41" font-size="4.6" font-weight="normal" fill="#2a2a2a" textLength="4.40" lengthAdjust="spacingAndGlyphs">11</text>
<text x="375.70" y="373.41" font-size="4.6" font-weight="normal" fill="#2a2a2a" textLength="4.40" lengthAdjust="spacingAndGlyphs">14</text>
<text x="406.05" y="373.41" font-size="4.6" font-weight="normal" fill="#2a2a2a" textLength="4.40" lengthAdjust="spacingAndGlyphs">14</text>
<text x="437.05" y="373.41" font-size="4.6" font-weight="normal" fill="#2a2a2a" textLength="4.40" lengthAdjust="spacingAndGlyphs">10</text>
<text x="469.30" y="373.41" font-size="4.6" font-weight="normal" fill="#2a2a2a" textLength="2.40" lengthAdjust="spacingAndGlyphs">9</text>
<text x="500.05" y="373.41" font-size="4.6" font-weight="normal" fill="#2a2a2a" textLength="2.40" lengthAdjust="spacingAndGlyphs">8</text>
<rect x="0" y="0" width="520" height="1.2" fill="#000"/><rect x="0" y="0" width="1.4" height="389" fill="#000"/><rect x="518.6" y="0" width="1.4" height="389" fill="#000"/><rect x="0" y="387.5" width="520" height="1.5" fill="#000"/>
</svg></body></html>
